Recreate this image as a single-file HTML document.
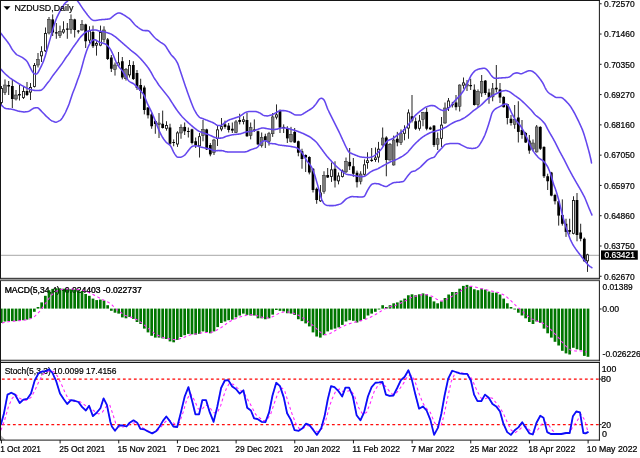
<!DOCTYPE html>
<html><head><meta charset="utf-8"><title>NZDUSD Daily</title>
<style>html,body{margin:0;padding:0;background:#fff;overflow:hidden}svg{display:block}text{font-family:"Liberation Sans",sans-serif;fill:#000;stroke:#000;stroke-width:0.22px}</style></head><body>
<svg width="640" height="458" viewBox="0 0 640 458">
<defs><filter id="bl" x="-2%" y="-2%" width="104%" height="104%"><feGaussianBlur stdDeviation="0.3"/></filter><clipPath id="cm"><rect x="1" y="1" width="598" height="277"/></clipPath><clipPath id="cd"><rect x="1" y="281.5" width="598" height="78"/></clipPath><clipPath id="cs"><rect x="1" y="362.9" width="598" height="77"/></clipPath></defs>
<rect width="640" height="458" fill="#fff"/>
<g filter="url(#bl)">
<line x1="1" y1="255.4" x2="599" y2="255.4" stroke="#b8b8b8" stroke-width="1.1"/>
<g clip-path="url(#cm)">
<line x1="1.50" y1="86.00" x2="1.50" y2="106.00" stroke="#1a1a1a" stroke-width="0.95"/>
<rect x="0.55" y="88.42" width="1.90" height="14.15" fill="#fff" stroke="#111" stroke-width="0.85"/>
<line x1="5.00" y1="79.40" x2="5.00" y2="95.00" stroke="#1a1a1a" stroke-width="0.95"/>
<rect x="3.62" y="85.00" width="2.75" height="7.50" fill="#7a7a7a" stroke="#222" stroke-width="0.5"/>
<line x1="8.66" y1="81.00" x2="8.66" y2="95.00" stroke="#1a1a1a" stroke-width="0.95"/>
<rect x="7.29" y="85.00" width="2.75" height="1.50" fill="#000"/>
<line x1="12.33" y1="80.00" x2="12.33" y2="108.00" stroke="#1a1a1a" stroke-width="0.95"/>
<rect x="10.96" y="86.00" width="2.75" height="13.00" fill="#000"/>
<line x1="16.00" y1="90.00" x2="16.00" y2="100.50" stroke="#1a1a1a" stroke-width="0.95"/>
<rect x="14.62" y="95.00" width="2.75" height="4.00" fill="#7a7a7a" stroke="#222" stroke-width="0.5"/>
<line x1="19.50" y1="85.00" x2="19.50" y2="100.50" stroke="#1a1a1a" stroke-width="0.95"/>
<rect x="18.55" y="94.42" width="1.90" height="0.65" fill="#fff" stroke="#111" stroke-width="0.85"/>
<line x1="23.50" y1="87.00" x2="23.50" y2="99.00" stroke="#1a1a1a" stroke-width="0.95"/>
<rect x="22.55" y="91.42" width="1.90" height="6.15" fill="#fff" stroke="#111" stroke-width="0.85"/>
<line x1="27.00" y1="82.00" x2="27.00" y2="96.00" stroke="#1a1a1a" stroke-width="0.95"/>
<rect x="25.62" y="91.00" width="2.75" height="4.00" fill="#000"/>
<line x1="30.50" y1="83.00" x2="30.50" y2="100.00" stroke="#1a1a1a" stroke-width="0.95"/>
<rect x="29.55" y="87.42" width="1.90" height="4.65" fill="#fff" stroke="#111" stroke-width="0.85"/>
<line x1="34.50" y1="63.00" x2="34.50" y2="87.50" stroke="#1a1a1a" stroke-width="0.95"/>
<rect x="33.55" y="65.42" width="1.90" height="21.15" fill="#fff" stroke="#111" stroke-width="0.85"/>
<line x1="38.00" y1="53.00" x2="38.00" y2="67.50" stroke="#1a1a1a" stroke-width="0.95"/>
<rect x="36.62" y="59.40" width="2.75" height="5.60" fill="#7a7a7a" stroke="#222" stroke-width="0.5"/>
<line x1="41.50" y1="46.25" x2="41.50" y2="62.00" stroke="#1a1a1a" stroke-width="0.95"/>
<rect x="40.55" y="51.67" width="1.90" height="4.15" fill="#fff" stroke="#111" stroke-width="0.85"/>
<line x1="45.50" y1="27.50" x2="45.50" y2="52.00" stroke="#1a1a1a" stroke-width="0.95"/>
<rect x="44.55" y="33.42" width="1.90" height="17.40" fill="#fff" stroke="#111" stroke-width="0.85"/>
<line x1="49.00" y1="17.00" x2="49.00" y2="34.40" stroke="#1a1a1a" stroke-width="0.95"/>
<rect x="47.62" y="19.40" width="2.75" height="13.60" fill="#7a7a7a" stroke="#222" stroke-width="0.5"/>
<line x1="52.66" y1="14.40" x2="52.66" y2="36.00" stroke="#1a1a1a" stroke-width="0.95"/>
<rect x="51.29" y="19.40" width="2.75" height="13.10" fill="#000"/>
<line x1="56.33" y1="23.00" x2="56.33" y2="38.75" stroke="#1a1a1a" stroke-width="0.95"/>
<rect x="54.96" y="32.25" width="2.75" height="1.25" fill="#000"/>
<line x1="60.00" y1="25.60" x2="60.00" y2="38.00" stroke="#1a1a1a" stroke-width="0.95"/>
<rect x="58.62" y="31.25" width="2.75" height="4.35" fill="#7a7a7a" stroke="#222" stroke-width="0.5"/>
<line x1="63.50" y1="21.25" x2="63.50" y2="33.75" stroke="#1a1a1a" stroke-width="0.95"/>
<rect x="62.55" y="29.82" width="1.90" height="2.25" fill="#fff" stroke="#111" stroke-width="0.85"/>
<line x1="67.33" y1="23.00" x2="67.33" y2="38.75" stroke="#1a1a1a" stroke-width="0.95"/>
<rect x="65.96" y="28.50" width="2.75" height="1.25" fill="#000"/>
<line x1="71.00" y1="14.40" x2="71.00" y2="33.75" stroke="#1a1a1a" stroke-width="0.95"/>
<rect x="69.62" y="19.40" width="2.75" height="10.00" fill="#7a7a7a" stroke="#222" stroke-width="0.5"/>
<line x1="74.66" y1="18.75" x2="74.66" y2="37.50" stroke="#1a1a1a" stroke-width="0.95"/>
<rect x="73.29" y="19.40" width="2.75" height="10.60" fill="#000"/>
<line x1="78.33" y1="30.00" x2="78.33" y2="33.50" stroke="#1a1a1a" stroke-width="0.95"/>
<rect x="76.96" y="30.60" width="2.75" height="1.00" fill="#000"/>
<line x1="82.00" y1="20.00" x2="82.00" y2="30.60" stroke="#1a1a1a" stroke-width="0.95"/>
<rect x="80.62" y="24.40" width="2.75" height="5.60" fill="#7a7a7a" stroke="#222" stroke-width="0.5"/>
<line x1="85.66" y1="23.75" x2="85.66" y2="48.00" stroke="#1a1a1a" stroke-width="0.95"/>
<rect x="84.29" y="24.40" width="2.75" height="16.85" fill="#000"/>
<line x1="89.50" y1="26.25" x2="89.50" y2="43.00" stroke="#1a1a1a" stroke-width="0.95"/>
<rect x="88.55" y="31.03" width="1.90" height="9.15" fill="#fff" stroke="#111" stroke-width="0.85"/>
<line x1="93.00" y1="25.60" x2="93.00" y2="48.00" stroke="#1a1a1a" stroke-width="0.95"/>
<rect x="91.62" y="32.00" width="2.75" height="14.25" fill="#000"/>
<line x1="96.50" y1="41.25" x2="96.50" y2="55.60" stroke="#1a1a1a" stroke-width="0.95"/>
<rect x="95.55" y="43.42" width="1.90" height="1.75" fill="#fff" stroke="#111" stroke-width="0.85"/>
<line x1="100.50" y1="25.60" x2="100.50" y2="46.25" stroke="#1a1a1a" stroke-width="0.95"/>
<rect x="99.55" y="32.42" width="1.90" height="12.75" fill="#fff" stroke="#111" stroke-width="0.85"/>
<line x1="104.00" y1="26.25" x2="104.00" y2="42.50" stroke="#1a1a1a" stroke-width="0.95"/>
<rect x="102.62" y="30.00" width="2.75" height="9.40" fill="#7a7a7a" stroke="#222" stroke-width="0.5"/>
<line x1="107.66" y1="38.00" x2="107.66" y2="60.00" stroke="#1a1a1a" stroke-width="0.95"/>
<rect x="106.29" y="39.40" width="2.75" height="19.60" fill="#000"/>
<line x1="111.33" y1="55.00" x2="111.33" y2="72.00" stroke="#1a1a1a" stroke-width="0.95"/>
<rect x="109.96" y="57.50" width="2.75" height="11.25" fill="#000"/>
<line x1="115.00" y1="62.50" x2="115.00" y2="75.60" stroke="#1a1a1a" stroke-width="0.95"/>
<rect x="113.62" y="65.00" width="2.75" height="4.40" fill="#7a7a7a" stroke="#222" stroke-width="0.5"/>
<line x1="118.50" y1="52.00" x2="118.50" y2="66.25" stroke="#1a1a1a" stroke-width="0.95"/>
<rect x="117.55" y="62.92" width="1.90" height="2.25" fill="#fff" stroke="#111" stroke-width="0.85"/>
<line x1="122.33" y1="57.00" x2="122.33" y2="79.40" stroke="#1a1a1a" stroke-width="0.95"/>
<rect x="120.96" y="61.25" width="2.75" height="16.25" fill="#000"/>
<line x1="126.00" y1="68.00" x2="126.00" y2="80.60" stroke="#1a1a1a" stroke-width="0.95"/>
<rect x="124.62" y="69.40" width="2.75" height="9.35" fill="#7a7a7a" stroke="#222" stroke-width="0.5"/>
<line x1="129.50" y1="60.00" x2="129.50" y2="77.50" stroke="#1a1a1a" stroke-width="0.95"/>
<rect x="128.55" y="65.42" width="1.90" height="9.45" fill="#fff" stroke="#111" stroke-width="0.85"/>
<line x1="133.33" y1="61.25" x2="133.33" y2="80.00" stroke="#1a1a1a" stroke-width="0.95"/>
<rect x="131.96" y="65.00" width="2.75" height="14.00" fill="#000"/>
<line x1="137.00" y1="70.00" x2="137.00" y2="90.00" stroke="#1a1a1a" stroke-width="0.95"/>
<rect x="135.62" y="73.00" width="2.75" height="15.00" fill="#000"/>
<line x1="140.66" y1="78.75" x2="140.66" y2="98.75" stroke="#1a1a1a" stroke-width="0.95"/>
<rect x="139.29" y="85.00" width="2.75" height="6.00" fill="#000"/>
<line x1="144.33" y1="85.60" x2="144.33" y2="114.40" stroke="#1a1a1a" stroke-width="0.95"/>
<rect x="142.96" y="87.50" width="2.75" height="22.50" fill="#000"/>
<line x1="148.00" y1="107.00" x2="148.00" y2="118.50" stroke="#1a1a1a" stroke-width="0.95"/>
<rect x="146.62" y="107.50" width="2.75" height="7.80" fill="#000"/>
<line x1="151.66" y1="112.50" x2="151.66" y2="128.75" stroke="#1a1a1a" stroke-width="0.95"/>
<rect x="150.29" y="114.40" width="2.75" height="11.85" fill="#000"/>
<line x1="155.33" y1="120.00" x2="155.33" y2="133.75" stroke="#1a1a1a" stroke-width="0.95"/>
<rect x="153.96" y="121.00" width="2.75" height="3.00" fill="#000"/>
<line x1="159.00" y1="113.00" x2="159.00" y2="138.00" stroke="#1a1a1a" stroke-width="0.95"/>
<rect x="157.62" y="123.00" width="2.75" height="1.50" fill="#7a7a7a" stroke="#222" stroke-width="0.5"/>
<line x1="162.66" y1="110.60" x2="162.66" y2="128.50" stroke="#1a1a1a" stroke-width="0.95"/>
<rect x="161.29" y="123.75" width="2.75" height="4.25" fill="#000"/>
<line x1="166.50" y1="121.25" x2="166.50" y2="130.60" stroke="#1a1a1a" stroke-width="0.95"/>
<rect x="165.55" y="125.42" width="1.90" height="2.90" fill="#fff" stroke="#111" stroke-width="0.85"/>
<line x1="170.00" y1="123.75" x2="170.00" y2="145.00" stroke="#1a1a1a" stroke-width="0.95"/>
<rect x="168.62" y="127.50" width="2.75" height="16.25" fill="#000"/>
<line x1="173.66" y1="139.40" x2="173.66" y2="146.25" stroke="#1a1a1a" stroke-width="0.95"/>
<rect x="172.29" y="142.00" width="2.75" height="1.00" fill="#000"/>
<line x1="177.50" y1="131.25" x2="177.50" y2="146.90" stroke="#1a1a1a" stroke-width="0.95"/>
<rect x="176.55" y="132.93" width="1.90" height="11.05" fill="#fff" stroke="#111" stroke-width="0.85"/>
<line x1="181.00" y1="124.40" x2="181.00" y2="138.75" stroke="#1a1a1a" stroke-width="0.95"/>
<rect x="179.62" y="127.50" width="2.75" height="5.50" fill="#7a7a7a" stroke="#222" stroke-width="0.5"/>
<line x1="184.66" y1="122.50" x2="184.66" y2="135.00" stroke="#1a1a1a" stroke-width="0.95"/>
<rect x="183.29" y="126.90" width="2.75" height="4.35" fill="#000"/>
<line x1="188.33" y1="127.50" x2="188.33" y2="137.50" stroke="#1a1a1a" stroke-width="0.95"/>
<rect x="186.96" y="131.00" width="2.75" height="1.00" fill="#000"/>
<line x1="192.00" y1="128.75" x2="192.00" y2="144.40" stroke="#1a1a1a" stroke-width="0.95"/>
<rect x="190.62" y="129.40" width="2.75" height="13.60" fill="#000"/>
<line x1="195.66" y1="137.50" x2="195.66" y2="148.00" stroke="#1a1a1a" stroke-width="0.95"/>
<rect x="194.29" y="141.25" width="2.75" height="3.75" fill="#000"/>
<line x1="199.50" y1="133.00" x2="199.50" y2="157.50" stroke="#1a1a1a" stroke-width="0.95"/>
<rect x="198.55" y="136.68" width="1.90" height="9.15" fill="#fff" stroke="#111" stroke-width="0.85"/>
<line x1="203.00" y1="120.00" x2="203.00" y2="141.25" stroke="#1a1a1a" stroke-width="0.95"/>
<rect x="201.62" y="129.40" width="2.75" height="6.20" fill="#7a7a7a" stroke="#222" stroke-width="0.5"/>
<line x1="206.66" y1="128.75" x2="206.66" y2="150.00" stroke="#1a1a1a" stroke-width="0.95"/>
<rect x="205.29" y="129.40" width="2.75" height="20.00" fill="#000"/>
<line x1="210.33" y1="143.00" x2="210.33" y2="156.25" stroke="#1a1a1a" stroke-width="0.95"/>
<rect x="208.96" y="145.00" width="2.75" height="9.40" fill="#000"/>
<line x1="214.00" y1="138.75" x2="214.00" y2="155.00" stroke="#1a1a1a" stroke-width="0.95"/>
<rect x="212.62" y="140.00" width="2.75" height="12.50" fill="#7a7a7a" stroke="#222" stroke-width="0.5"/>
<line x1="217.50" y1="126.00" x2="217.50" y2="146.00" stroke="#1a1a1a" stroke-width="0.95"/>
<rect x="216.55" y="129.83" width="1.90" height="8.75" fill="#fff" stroke="#111" stroke-width="0.85"/>
<line x1="221.50" y1="118.00" x2="221.50" y2="131.25" stroke="#1a1a1a" stroke-width="0.95"/>
<rect x="220.55" y="126.67" width="1.90" height="2.30" fill="#fff" stroke="#111" stroke-width="0.85"/>
<line x1="225.00" y1="120.60" x2="225.00" y2="128.75" stroke="#1a1a1a" stroke-width="0.95"/>
<rect x="223.62" y="124.40" width="2.75" height="2.50" fill="#000"/>
<line x1="228.66" y1="123.00" x2="228.66" y2="132.50" stroke="#1a1a1a" stroke-width="0.95"/>
<rect x="227.29" y="125.60" width="2.75" height="4.40" fill="#000"/>
<line x1="232.33" y1="122.50" x2="232.33" y2="133.00" stroke="#1a1a1a" stroke-width="0.95"/>
<rect x="230.96" y="128.75" width="2.75" height="1.85" fill="#000"/>
<line x1="236.00" y1="120.00" x2="236.00" y2="133.00" stroke="#1a1a1a" stroke-width="0.95"/>
<rect x="234.62" y="121.90" width="2.75" height="10.60" fill="#7a7a7a" stroke="#222" stroke-width="0.5"/>
<line x1="239.66" y1="113.75" x2="239.66" y2="124.40" stroke="#1a1a1a" stroke-width="0.95"/>
<rect x="238.29" y="120.00" width="2.75" height="1.90" fill="#000"/>
<line x1="243.50" y1="116.25" x2="243.50" y2="124.40" stroke="#1a1a1a" stroke-width="0.95"/>
<rect x="242.55" y="119.83" width="1.90" height="1.65" fill="#fff" stroke="#111" stroke-width="0.85"/>
<line x1="247.00" y1="113.00" x2="247.00" y2="136.90" stroke="#1a1a1a" stroke-width="0.95"/>
<rect x="245.62" y="120.00" width="2.75" height="16.25" fill="#000"/>
<line x1="250.66" y1="122.50" x2="250.66" y2="139.40" stroke="#1a1a1a" stroke-width="0.95"/>
<rect x="249.29" y="127.50" width="2.75" height="8.10" fill="#7a7a7a" stroke="#222" stroke-width="0.5"/>
<line x1="254.33" y1="119.40" x2="254.33" y2="131.90" stroke="#1a1a1a" stroke-width="0.95"/>
<rect x="252.96" y="129.50" width="2.75" height="1.50" fill="#000"/>
<line x1="258.00" y1="130.60" x2="258.00" y2="145.00" stroke="#1a1a1a" stroke-width="0.95"/>
<rect x="256.62" y="131.25" width="2.75" height="13.15" fill="#000"/>
<line x1="261.66" y1="132.50" x2="261.66" y2="147.50" stroke="#1a1a1a" stroke-width="0.95"/>
<rect x="260.29" y="137.50" width="2.75" height="8.10" fill="#7a7a7a" stroke="#222" stroke-width="0.5"/>
<line x1="265.33" y1="133.75" x2="265.33" y2="148.00" stroke="#1a1a1a" stroke-width="0.95"/>
<rect x="263.96" y="136.25" width="2.75" height="4.35" fill="#000"/>
<line x1="269.00" y1="131.90" x2="269.00" y2="145.60" stroke="#1a1a1a" stroke-width="0.95"/>
<rect x="267.62" y="133.75" width="2.75" height="7.50" fill="#7a7a7a" stroke="#222" stroke-width="0.5"/>
<line x1="272.66" y1="113.00" x2="272.66" y2="136.90" stroke="#1a1a1a" stroke-width="0.95"/>
<rect x="271.29" y="116.90" width="2.75" height="16.85" fill="#7a7a7a" stroke="#222" stroke-width="0.5"/>
<line x1="276.50" y1="104.40" x2="276.50" y2="119.40" stroke="#1a1a1a" stroke-width="0.95"/>
<rect x="275.55" y="114.83" width="1.90" height="2.25" fill="#fff" stroke="#111" stroke-width="0.85"/>
<line x1="280.00" y1="109.40" x2="280.00" y2="133.00" stroke="#1a1a1a" stroke-width="0.95"/>
<rect x="278.62" y="111.00" width="2.75" height="16.70" fill="#000"/>
<line x1="283.66" y1="124.40" x2="283.66" y2="133.00" stroke="#1a1a1a" stroke-width="0.95"/>
<rect x="282.29" y="126.90" width="2.75" height="1.10" fill="#000"/>
<line x1="287.33" y1="126.25" x2="287.33" y2="143.00" stroke="#1a1a1a" stroke-width="0.95"/>
<rect x="285.96" y="128.75" width="2.75" height="9.65" fill="#000"/>
<line x1="291.00" y1="126.90" x2="291.00" y2="142.50" stroke="#1a1a1a" stroke-width="0.95"/>
<rect x="289.62" y="134.40" width="2.75" height="6.85" fill="#7a7a7a" stroke="#222" stroke-width="0.5"/>
<line x1="294.66" y1="128.00" x2="294.66" y2="143.00" stroke="#1a1a1a" stroke-width="0.95"/>
<rect x="293.29" y="131.90" width="2.75" height="10.60" fill="#000"/>
<line x1="298.33" y1="140.60" x2="298.33" y2="156.25" stroke="#1a1a1a" stroke-width="0.95"/>
<rect x="296.96" y="141.25" width="2.75" height="11.45" fill="#000"/>
<line x1="302.00" y1="148.75" x2="302.00" y2="168.75" stroke="#1a1a1a" stroke-width="0.95"/>
<rect x="300.62" y="151.25" width="2.75" height="7.75" fill="#000"/>
<line x1="305.66" y1="154.40" x2="305.66" y2="172.00" stroke="#1a1a1a" stroke-width="0.95"/>
<rect x="304.29" y="155.00" width="2.75" height="2.50" fill="#000"/>
<line x1="309.33" y1="156.25" x2="309.33" y2="174.40" stroke="#1a1a1a" stroke-width="0.95"/>
<rect x="307.96" y="157.00" width="2.75" height="15.50" fill="#000"/>
<line x1="313.00" y1="168.00" x2="313.00" y2="192.50" stroke="#1a1a1a" stroke-width="0.95"/>
<rect x="311.62" y="168.75" width="2.75" height="21.25" fill="#000"/>
<line x1="316.66" y1="187.50" x2="316.66" y2="203.75" stroke="#1a1a1a" stroke-width="0.95"/>
<rect x="315.29" y="188.75" width="2.75" height="11.25" fill="#000"/>
<line x1="320.50" y1="185.00" x2="320.50" y2="201.90" stroke="#1a1a1a" stroke-width="0.95"/>
<rect x="319.55" y="192.93" width="1.90" height="7.90" fill="#fff" stroke="#111" stroke-width="0.85"/>
<line x1="324.00" y1="171.25" x2="324.00" y2="193.75" stroke="#1a1a1a" stroke-width="0.95"/>
<rect x="322.62" y="175.60" width="2.75" height="15.65" fill="#7a7a7a" stroke="#222" stroke-width="0.5"/>
<line x1="327.66" y1="168.00" x2="327.66" y2="178.00" stroke="#1a1a1a" stroke-width="0.95"/>
<rect x="326.29" y="175.00" width="2.75" height="2.50" fill="#000"/>
<line x1="331.50" y1="162.50" x2="331.50" y2="181.90" stroke="#1a1a1a" stroke-width="0.95"/>
<rect x="330.55" y="169.83" width="1.90" height="6.65" fill="#fff" stroke="#111" stroke-width="0.85"/>
<line x1="335.00" y1="161.25" x2="335.00" y2="187.50" stroke="#1a1a1a" stroke-width="0.95"/>
<rect x="333.62" y="168.75" width="2.75" height="11.85" fill="#000"/>
<line x1="338.50" y1="172.50" x2="338.50" y2="184.40" stroke="#1a1a1a" stroke-width="0.95"/>
<rect x="337.55" y="176.03" width="1.90" height="4.80" fill="#fff" stroke="#111" stroke-width="0.85"/>
<line x1="342.50" y1="169.40" x2="342.50" y2="177.50" stroke="#1a1a1a" stroke-width="0.95"/>
<rect x="341.55" y="171.03" width="1.90" height="5.45" fill="#fff" stroke="#111" stroke-width="0.85"/>
<line x1="346.00" y1="157.50" x2="346.00" y2="173.00" stroke="#1a1a1a" stroke-width="0.95"/>
<rect x="344.62" y="161.25" width="2.75" height="10.65" fill="#7a7a7a" stroke="#222" stroke-width="0.5"/>
<line x1="349.66" y1="148.00" x2="349.66" y2="170.00" stroke="#1a1a1a" stroke-width="0.95"/>
<rect x="348.29" y="161.90" width="2.75" height="4.35" fill="#000"/>
<line x1="353.33" y1="158.00" x2="353.33" y2="176.90" stroke="#1a1a1a" stroke-width="0.95"/>
<rect x="351.96" y="166.25" width="2.75" height="7.50" fill="#000"/>
<line x1="357.00" y1="170.60" x2="357.00" y2="187.50" stroke="#1a1a1a" stroke-width="0.95"/>
<rect x="355.62" y="172.70" width="2.75" height="9.50" fill="#000"/>
<line x1="360.66" y1="171.25" x2="360.66" y2="184.40" stroke="#1a1a1a" stroke-width="0.95"/>
<rect x="359.29" y="174.00" width="2.75" height="7.25" fill="#7a7a7a" stroke="#222" stroke-width="0.5"/>
<line x1="364.50" y1="159.40" x2="364.50" y2="175.60" stroke="#1a1a1a" stroke-width="0.95"/>
<rect x="363.55" y="164.83" width="1.90" height="9.45" fill="#fff" stroke="#111" stroke-width="0.85"/>
<line x1="367.50" y1="152.30" x2="367.50" y2="168.75" stroke="#1a1a1a" stroke-width="0.95"/>
<rect x="366.55" y="160.73" width="1.90" height="1.85" fill="#fff" stroke="#111" stroke-width="0.85"/>
<line x1="371.66" y1="148.00" x2="371.66" y2="161.90" stroke="#1a1a1a" stroke-width="0.95"/>
<rect x="370.29" y="159.75" width="2.75" height="1.25" fill="#000"/>
<line x1="375.50" y1="147.50" x2="375.50" y2="161.90" stroke="#1a1a1a" stroke-width="0.95"/>
<rect x="374.55" y="157.93" width="1.90" height="1.65" fill="#fff" stroke="#111" stroke-width="0.85"/>
<line x1="378.50" y1="141.90" x2="378.50" y2="162.50" stroke="#1a1a1a" stroke-width="0.95"/>
<rect x="377.55" y="149.18" width="1.90" height="7.90" fill="#fff" stroke="#111" stroke-width="0.85"/>
<line x1="382.66" y1="127.50" x2="382.66" y2="145.60" stroke="#1a1a1a" stroke-width="0.95"/>
<rect x="381.29" y="138.00" width="2.75" height="7.00" fill="#7a7a7a" stroke="#222" stroke-width="0.5"/>
<line x1="386.33" y1="136.25" x2="386.33" y2="176.25" stroke="#1a1a1a" stroke-width="0.95"/>
<rect x="384.96" y="137.50" width="2.75" height="22.50" fill="#000"/>
<line x1="390.00" y1="143.00" x2="390.00" y2="160.60" stroke="#1a1a1a" stroke-width="0.95"/>
<rect x="388.62" y="144.40" width="2.75" height="15.60" fill="#7a7a7a" stroke="#222" stroke-width="0.5"/>
<line x1="393.66" y1="135.60" x2="393.66" y2="165.60" stroke="#1a1a1a" stroke-width="0.95"/>
<rect x="392.29" y="140.00" width="2.75" height="25.00" fill="#7a7a7a" stroke="#222" stroke-width="0.5"/>
<line x1="397.33" y1="131.90" x2="397.33" y2="146.25" stroke="#1a1a1a" stroke-width="0.95"/>
<rect x="395.96" y="138.75" width="2.75" height="3.75" fill="#000"/>
<line x1="401.00" y1="129.40" x2="401.00" y2="145.00" stroke="#1a1a1a" stroke-width="0.95"/>
<rect x="399.62" y="133.75" width="2.75" height="8.75" fill="#7a7a7a" stroke="#222" stroke-width="0.5"/>
<line x1="404.50" y1="125.30" x2="404.50" y2="140.30" stroke="#1a1a1a" stroke-width="0.95"/>
<rect x="403.55" y="129.43" width="1.90" height="3.90" fill="#fff" stroke="#111" stroke-width="0.85"/>
<line x1="408.50" y1="109.40" x2="408.50" y2="138.75" stroke="#1a1a1a" stroke-width="0.95"/>
<rect x="407.55" y="112.92" width="1.90" height="15.15" fill="#fff" stroke="#111" stroke-width="0.85"/>
<line x1="412.00" y1="95.00" x2="412.00" y2="122.50" stroke="#1a1a1a" stroke-width="0.95"/>
<rect x="410.62" y="116.25" width="2.75" height="4.35" fill="#000"/>
<line x1="415.66" y1="117.50" x2="415.66" y2="130.00" stroke="#1a1a1a" stroke-width="0.95"/>
<rect x="414.29" y="121.25" width="2.75" height="7.50" fill="#000"/>
<line x1="419.50" y1="115.00" x2="419.50" y2="130.60" stroke="#1a1a1a" stroke-width="0.95"/>
<rect x="418.55" y="121.02" width="1.90" height="7.30" fill="#fff" stroke="#111" stroke-width="0.85"/>
<line x1="423.00" y1="111.90" x2="423.00" y2="126.25" stroke="#1a1a1a" stroke-width="0.95"/>
<rect x="421.62" y="112.50" width="2.75" height="6.90" fill="#7a7a7a" stroke="#222" stroke-width="0.5"/>
<line x1="426.66" y1="108.00" x2="426.66" y2="130.30" stroke="#1a1a1a" stroke-width="0.95"/>
<rect x="425.29" y="111.90" width="2.75" height="16.85" fill="#000"/>
<line x1="430.33" y1="126.50" x2="430.33" y2="130.00" stroke="#1a1a1a" stroke-width="0.95"/>
<rect x="428.96" y="127.50" width="2.75" height="1.90" fill="#000"/>
<line x1="434.00" y1="125.00" x2="434.00" y2="146.90" stroke="#1a1a1a" stroke-width="0.95"/>
<rect x="432.62" y="125.60" width="2.75" height="19.40" fill="#000"/>
<line x1="437.66" y1="132.50" x2="437.66" y2="150.00" stroke="#1a1a1a" stroke-width="0.95"/>
<rect x="436.29" y="138.75" width="2.75" height="5.65" fill="#7a7a7a" stroke="#222" stroke-width="0.5"/>
<line x1="441.50" y1="117.00" x2="441.50" y2="146.90" stroke="#1a1a1a" stroke-width="0.95"/>
<rect x="440.55" y="125.12" width="1.90" height="13.20" fill="#fff" stroke="#111" stroke-width="0.85"/>
<line x1="445.00" y1="102.50" x2="445.00" y2="123.75" stroke="#1a1a1a" stroke-width="0.95"/>
<rect x="443.62" y="108.00" width="2.75" height="15.00" fill="#7a7a7a" stroke="#222" stroke-width="0.5"/>
<line x1="448.50" y1="98.00" x2="448.50" y2="111.00" stroke="#1a1a1a" stroke-width="0.95"/>
<rect x="447.55" y="101.02" width="1.90" height="6.55" fill="#fff" stroke="#111" stroke-width="0.85"/>
<line x1="452.33" y1="101.90" x2="452.33" y2="107.50" stroke="#1a1a1a" stroke-width="0.95"/>
<rect x="450.96" y="104.00" width="2.75" height="1.30" fill="#000"/>
<line x1="456.00" y1="95.00" x2="456.00" y2="110.30" stroke="#1a1a1a" stroke-width="0.95"/>
<rect x="454.62" y="102.50" width="2.75" height="4.70" fill="#000"/>
<line x1="459.66" y1="84.40" x2="459.66" y2="111.50" stroke="#1a1a1a" stroke-width="0.95"/>
<rect x="458.29" y="85.00" width="2.75" height="21.25" fill="#7a7a7a" stroke="#222" stroke-width="0.5"/>
<line x1="463.50" y1="77.50" x2="463.50" y2="88.75" stroke="#1a1a1a" stroke-width="0.95"/>
<rect x="462.55" y="82.92" width="1.90" height="2.25" fill="#fff" stroke="#111" stroke-width="0.85"/>
<line x1="467.00" y1="80.00" x2="467.00" y2="91.00" stroke="#1a1a1a" stroke-width="0.95"/>
<rect x="465.62" y="84.00" width="2.75" height="2.00" fill="#7a7a7a" stroke="#222" stroke-width="0.5"/>
<line x1="470.66" y1="78.75" x2="470.66" y2="90.00" stroke="#1a1a1a" stroke-width="0.95"/>
<rect x="469.29" y="85.00" width="2.75" height="1.25" fill="#000"/>
<line x1="474.33" y1="84.40" x2="474.33" y2="105.60" stroke="#1a1a1a" stroke-width="0.95"/>
<rect x="472.96" y="89.70" width="2.75" height="15.30" fill="#000"/>
<line x1="478.00" y1="89.40" x2="478.00" y2="107.20" stroke="#1a1a1a" stroke-width="0.95"/>
<rect x="476.62" y="91.60" width="2.75" height="13.10" fill="#7a7a7a" stroke="#222" stroke-width="0.5"/>
<line x1="481.66" y1="75.00" x2="481.66" y2="96.90" stroke="#1a1a1a" stroke-width="0.95"/>
<rect x="480.29" y="81.25" width="2.75" height="11.75" fill="#7a7a7a" stroke="#222" stroke-width="0.5"/>
<line x1="485.33" y1="80.00" x2="485.33" y2="95.00" stroke="#1a1a1a" stroke-width="0.95"/>
<rect x="483.96" y="80.60" width="2.75" height="12.40" fill="#000"/>
<line x1="489.00" y1="88.75" x2="489.00" y2="103.75" stroke="#1a1a1a" stroke-width="0.95"/>
<rect x="487.62" y="92.50" width="2.75" height="5.00" fill="#000"/>
<line x1="492.66" y1="83.00" x2="492.66" y2="101.25" stroke="#1a1a1a" stroke-width="0.95"/>
<rect x="491.29" y="88.75" width="2.75" height="8.15" fill="#7a7a7a" stroke="#222" stroke-width="0.5"/>
<line x1="496.33" y1="65.00" x2="496.33" y2="92.50" stroke="#1a1a1a" stroke-width="0.95"/>
<rect x="494.96" y="87.75" width="2.75" height="1.65" fill="#000"/>
<line x1="500.00" y1="83.00" x2="500.00" y2="103.00" stroke="#1a1a1a" stroke-width="0.95"/>
<rect x="498.62" y="89.40" width="2.75" height="8.10" fill="#000"/>
<line x1="503.66" y1="96.25" x2="503.66" y2="107.50" stroke="#1a1a1a" stroke-width="0.95"/>
<rect x="502.29" y="96.90" width="2.75" height="10.30" fill="#000"/>
<line x1="507.33" y1="103.75" x2="507.33" y2="124.40" stroke="#1a1a1a" stroke-width="0.95"/>
<rect x="505.96" y="104.00" width="2.75" height="14.00" fill="#000"/>
<line x1="511.00" y1="115.00" x2="511.00" y2="125.60" stroke="#1a1a1a" stroke-width="0.95"/>
<rect x="509.62" y="118.75" width="2.75" height="4.25" fill="#000"/>
<line x1="514.66" y1="105.00" x2="514.66" y2="128.75" stroke="#1a1a1a" stroke-width="0.95"/>
<rect x="513.29" y="119.40" width="2.75" height="5.00" fill="#7a7a7a" stroke="#222" stroke-width="0.5"/>
<line x1="518.33" y1="101.25" x2="518.33" y2="142.50" stroke="#1a1a1a" stroke-width="0.95"/>
<rect x="516.96" y="117.50" width="2.75" height="14.40" fill="#000"/>
<line x1="522.00" y1="120.00" x2="522.00" y2="138.75" stroke="#1a1a1a" stroke-width="0.95"/>
<rect x="520.62" y="130.00" width="2.75" height="5.00" fill="#000"/>
<line x1="525.66" y1="131.90" x2="525.66" y2="143.00" stroke="#1a1a1a" stroke-width="0.95"/>
<rect x="524.29" y="133.00" width="2.75" height="9.50" fill="#000"/>
<line x1="529.33" y1="135.00" x2="529.33" y2="153.75" stroke="#1a1a1a" stroke-width="0.95"/>
<rect x="527.96" y="140.60" width="2.75" height="10.00" fill="#000"/>
<line x1="533.00" y1="139.40" x2="533.00" y2="151.25" stroke="#1a1a1a" stroke-width="0.95"/>
<rect x="531.62" y="143.00" width="2.75" height="6.00" fill="#7a7a7a" stroke="#222" stroke-width="0.5"/>
<line x1="536.66" y1="125.00" x2="536.66" y2="152.50" stroke="#1a1a1a" stroke-width="0.95"/>
<rect x="535.29" y="126.90" width="2.75" height="25.10" fill="#7a7a7a" stroke="#222" stroke-width="0.5"/>
<line x1="540.33" y1="126.25" x2="540.33" y2="150.00" stroke="#1a1a1a" stroke-width="0.95"/>
<rect x="538.96" y="126.90" width="2.75" height="21.85" fill="#000"/>
<line x1="544.00" y1="146.25" x2="544.00" y2="178.00" stroke="#1a1a1a" stroke-width="0.95"/>
<rect x="542.62" y="146.90" width="2.75" height="29.35" fill="#000"/>
<line x1="547.66" y1="173.75" x2="547.66" y2="190.00" stroke="#1a1a1a" stroke-width="0.95"/>
<rect x="546.29" y="176.25" width="2.75" height="5.00" fill="#000"/>
<line x1="551.33" y1="171.90" x2="551.33" y2="196.25" stroke="#1a1a1a" stroke-width="0.95"/>
<rect x="549.96" y="172.50" width="2.75" height="23.10" fill="#000"/>
<line x1="555.00" y1="193.75" x2="555.00" y2="204.40" stroke="#1a1a1a" stroke-width="0.95"/>
<rect x="553.62" y="195.00" width="2.75" height="6.25" fill="#000"/>
<line x1="558.66" y1="200.60" x2="558.66" y2="225.60" stroke="#1a1a1a" stroke-width="0.95"/>
<rect x="557.29" y="201.25" width="2.75" height="14.35" fill="#000"/>
<line x1="562.33" y1="199.40" x2="562.33" y2="225.60" stroke="#1a1a1a" stroke-width="0.95"/>
<rect x="560.96" y="215.00" width="2.75" height="8.75" fill="#000"/>
<line x1="566.00" y1="218.75" x2="566.00" y2="236.90" stroke="#1a1a1a" stroke-width="0.95"/>
<rect x="564.62" y="223.75" width="2.75" height="8.15" fill="#000"/>
<line x1="569.66" y1="218.75" x2="569.66" y2="234.50" stroke="#1a1a1a" stroke-width="0.95"/>
<rect x="568.29" y="230.00" width="2.75" height="1.90" fill="#000"/>
<line x1="573.50" y1="196.25" x2="573.50" y2="234.40" stroke="#1a1a1a" stroke-width="0.95"/>
<rect x="572.55" y="200.43" width="1.90" height="32.90" fill="#fff" stroke="#111" stroke-width="0.85"/>
<line x1="577.00" y1="193.00" x2="577.00" y2="241.25" stroke="#1a1a1a" stroke-width="0.95"/>
<rect x="575.62" y="200.00" width="2.75" height="35.00" fill="#000"/>
<line x1="580.66" y1="223.75" x2="580.66" y2="241.25" stroke="#1a1a1a" stroke-width="0.95"/>
<rect x="579.29" y="232.50" width="2.75" height="6.25" fill="#000"/>
<line x1="584.33" y1="237.50" x2="584.33" y2="261.90" stroke="#1a1a1a" stroke-width="0.95"/>
<rect x="582.96" y="238.75" width="2.75" height="22.50" fill="#000"/>
<line x1="587.50" y1="253.75" x2="587.50" y2="271.90" stroke="#1a1a1a" stroke-width="0.95"/>
<rect x="586.55" y="254.83" width="1.90" height="6.00" fill="#fff" stroke="#111" stroke-width="0.85"/>
<polyline points="0.65,33.00 1.15,33.66 1.65,34.32 2.15,34.98 2.65,35.63 3.15,36.28 3.65,36.92 4.15,37.56 4.65,38.19 5.15,38.81 5.65,39.44 6.15,40.08 6.65,40.73 7.15,41.40 7.65,42.07 8.15,42.75 8.65,43.45 9.15,44.17 9.65,44.96 10.15,45.81 10.65,46.72 11.15,47.64 11.65,48.51 12.15,49.29 12.65,49.99 13.15,50.64 13.65,51.26 14.15,51.87 14.65,52.48 15.15,53.07 15.65,53.64 16.15,54.13 16.65,54.54 17.15,54.87 17.65,55.14 18.15,55.39 18.65,55.64 19.15,55.88 19.65,56.12 20.15,56.36 20.65,56.61 21.15,56.85 21.65,57.11 22.15,57.38 22.65,57.69 23.15,58.03 23.65,58.40 24.15,58.79 24.65,59.17 25.15,59.56 25.65,59.97 26.15,60.41 26.65,60.94 27.15,61.61 27.65,62.42 28.15,63.33 28.65,64.31 29.15,65.30 29.65,66.30 30.15,67.30 30.65,68.30 31.15,69.30 31.65,70.28 32.15,71.21 32.65,72.04 33.15,72.71 33.65,73.21 34.15,73.57 34.65,73.84 35.15,74.03 35.65,74.12 36.15,74.09 36.65,73.91 37.15,73.57 37.65,73.03 38.15,72.29 38.65,71.40 39.15,70.44 39.65,69.43 40.15,68.42 40.65,67.39 41.15,66.35 41.65,65.30 42.15,64.23 42.65,63.11 43.15,61.92 43.65,60.64 44.15,59.27 44.65,57.81 45.15,56.25 45.65,54.58 46.15,52.84 46.65,51.07 47.15,49.29 47.65,47.54 48.15,45.81 48.65,44.09 49.15,42.38 49.65,40.65 50.15,38.91 50.65,37.14 51.15,35.36 51.65,33.57 52.15,31.80 52.65,30.04 53.15,28.31 53.65,26.61 54.15,24.95 54.65,23.37 55.15,21.89 55.65,20.54 56.15,19.27 56.65,18.07 57.15,16.92 57.65,15.83 58.15,14.79 58.65,13.79 59.15,12.81 59.65,11.85 60.15,10.91 60.65,9.99 61.15,9.11 61.65,8.26 62.15,7.43 62.65,6.61 63.15,5.82 63.65,5.05 64.15,4.33 64.65,3.67 65.15,3.10 65.65,2.63 66.15,2.22 66.65,1.84 67.15,1.44 67.65,0.97 68.15,0.41 68.65,-0.25 69.15,-0.94 69.65,-1.58 70.15,-2.05 70.65,-2.33 71.15,-2.45 71.65,-2.49 72.15,-2.50 72.65,-2.50 73.15,-2.50 73.65,-2.49 74.15,-2.47 74.65,-2.40 75.15,-2.20 75.65,-1.83 76.15,-1.25 76.65,-0.52 77.15,0.26 77.65,1.02 78.15,1.73 78.65,2.40 79.15,3.09 79.65,3.81 80.15,4.56 80.65,5.32 81.15,6.09 81.65,6.84 82.15,7.60 82.65,8.34 83.15,9.07 83.65,9.77 84.15,10.44 84.65,11.10 85.15,11.76 85.65,12.43 86.15,13.11 86.65,13.80 87.15,14.47 87.65,15.13 88.15,15.76 88.65,16.37 89.15,16.96 89.65,17.53 90.15,18.07 90.65,18.57 91.15,19.04 91.65,19.47 92.15,19.84 92.65,20.12 93.15,20.30 93.65,20.41 94.15,20.48 94.65,20.51 95.15,20.50 95.65,20.46 96.15,20.40 96.65,20.32 97.15,20.23 97.65,20.15 98.15,20.06 98.65,19.98 99.15,19.90 99.65,19.83 100.15,19.76 100.65,19.71 101.15,19.67 101.65,19.64 102.15,19.60 102.65,19.56 103.15,19.53 103.65,19.49 104.15,19.46 104.65,19.42 105.15,19.38 105.65,19.33 106.15,19.28 106.65,19.23 107.15,19.18 107.65,19.13 108.15,19.08 108.65,19.02 109.15,18.94 109.65,18.80 110.15,18.57 110.65,18.25 111.15,17.87 111.65,17.44 112.15,17.01 112.65,16.57 113.15,16.15 113.65,15.74 114.15,15.35 114.65,14.99 115.15,14.63 115.65,14.29 116.15,13.95 116.65,13.63 117.15,13.36 117.65,13.16 118.15,13.04 118.65,12.98 119.15,12.97 119.65,13.01 120.15,13.12 120.65,13.30 121.15,13.52 121.65,13.77 122.15,14.03 122.65,14.29 123.15,14.56 123.65,14.84 124.15,15.14 124.65,15.45 125.15,15.77 125.65,16.10 126.15,16.43 126.65,16.77 127.15,17.10 127.65,17.43 128.15,17.77 128.65,18.11 129.15,18.47 129.65,18.86 130.15,19.31 130.65,19.83 131.15,20.39 131.65,20.98 132.15,21.58 132.65,22.18 133.15,22.78 133.65,23.37 134.15,23.96 134.65,24.51 135.15,25.02 135.65,25.48 136.15,25.91 136.65,26.32 137.15,26.72 137.65,27.11 138.15,27.50 138.65,27.87 139.15,28.21 139.65,28.54 140.15,28.85 140.65,29.16 141.15,29.47 141.65,29.76 142.15,30.04 142.65,30.28 143.15,30.45 143.65,30.54 144.15,30.58 144.65,30.60 145.15,30.60 145.65,30.60 146.15,30.60 146.65,30.60 147.15,30.61 147.65,30.64 148.15,30.73 148.65,30.94 149.15,31.30 149.65,31.80 150.15,32.38 150.65,32.98 151.15,33.59 151.65,34.18 152.15,34.76 152.65,35.33 153.15,35.90 153.65,36.46 154.15,37.02 154.65,37.54 155.15,38.03 155.65,38.47 156.15,38.89 156.65,39.28 157.15,39.68 157.65,40.07 158.15,40.46 158.65,40.84 159.15,41.23 159.65,41.60 160.15,41.95 160.65,42.29 161.15,42.61 161.65,42.92 162.15,43.23 162.65,43.54 163.15,43.86 163.65,44.18 164.15,44.54 164.65,44.97 165.15,45.51 165.65,46.18 166.15,46.94 166.65,47.75 167.15,48.58 167.65,49.39 168.15,50.20 168.65,50.99 169.15,51.77 169.65,52.53 170.15,53.29 170.65,54.02 171.15,54.70 171.65,55.31 172.15,55.87 172.65,56.39 173.15,56.90 173.65,57.41 174.15,57.94 174.65,58.52 175.15,59.17 175.65,59.90 176.15,60.69 176.65,61.53 177.15,62.42 177.65,63.43 178.15,64.59 178.65,65.92 179.15,67.38 179.65,68.89 180.15,70.42 180.65,71.94 181.15,73.45 181.65,74.95 182.15,76.45 182.65,77.95 183.15,79.45 183.65,80.95 184.15,82.44 184.65,83.94 185.15,85.42 185.65,86.89 186.15,88.35 186.65,89.81 187.15,91.26 187.65,92.69 188.15,94.10 188.65,95.48 189.15,96.84 189.65,98.19 190.15,99.53 190.65,100.86 191.15,102.18 191.65,103.47 192.15,104.74 192.65,105.98 193.15,107.18 193.65,108.31 194.15,109.36 194.65,110.33 195.15,111.25 195.65,112.14 196.15,113.00 196.65,113.82 197.15,114.55 197.65,115.22 198.15,115.83 198.65,116.41 199.15,116.94 199.65,117.39 200.15,117.72 200.65,117.93 201.15,118.08 201.65,118.22 202.15,118.38 202.65,118.57 203.15,118.76 203.65,118.96 204.15,119.16 204.65,119.36 205.15,119.56 205.65,119.76 206.15,119.95 206.65,120.15 207.15,120.34 207.65,120.53 208.15,120.72 208.65,120.91 209.15,121.10 209.65,121.29 210.15,121.48 210.65,121.68 211.15,121.88 211.65,122.09 212.15,122.30 212.65,122.52 213.15,122.76 213.65,123.02 214.15,123.32 214.65,123.64 215.15,123.97 215.65,124.32 216.15,124.65 216.65,124.97 217.15,125.23 217.65,125.43 218.15,125.53 218.65,125.58 219.15,125.60 219.65,125.59 220.15,125.58 220.65,125.51 221.15,125.38 221.65,125.14 222.15,124.81 222.65,124.43 223.15,124.03 223.65,123.62 224.15,123.21 224.65,122.82 225.15,122.44 225.65,122.08 226.15,121.74 226.65,121.40 227.15,121.07 227.65,120.74 228.15,120.44 228.65,120.16 229.15,119.93 229.65,119.73 230.15,119.56 230.65,119.39 231.15,119.23 231.65,119.07 232.15,118.91 232.65,118.75 233.15,118.59 233.65,118.43 234.15,118.27 234.65,118.11 235.15,117.94 235.65,117.77 236.15,117.60 236.65,117.42 237.15,117.25 237.65,117.07 238.15,116.90 238.65,116.72 239.15,116.52 239.65,116.30 240.15,116.04 240.65,115.72 241.15,115.38 241.65,115.01 242.15,114.64 242.65,114.26 243.15,113.89 243.65,113.52 244.15,113.17 244.65,112.85 245.15,112.58 245.65,112.37 246.15,112.21 246.65,112.06 247.15,111.93 247.65,111.80 248.15,111.69 248.65,111.60 249.15,111.54 249.65,111.51 250.15,111.50 250.65,111.50 251.15,111.50 251.65,111.50 252.15,111.50 252.65,111.50 253.15,111.50 253.65,111.50 254.15,111.50 254.65,111.50 255.15,111.51 255.65,111.54 256.15,111.61 256.65,111.72 257.15,111.88 257.65,112.07 258.15,112.26 258.65,112.46 259.15,112.68 259.65,112.91 260.15,113.18 260.65,113.48 261.15,113.81 261.65,114.15 262.15,114.49 262.65,114.82 263.15,115.12 263.65,115.37 264.15,115.55 264.65,115.67 265.15,115.74 265.65,115.80 266.15,115.85 266.65,115.89 267.15,115.90 267.65,115.87 268.15,115.80 268.65,115.70 269.15,115.59 269.65,115.46 270.15,115.34 270.65,115.21 271.15,115.08 271.65,114.94 272.15,114.78 272.65,114.57 273.15,114.33 273.65,114.05 274.15,113.76 274.65,113.46 275.15,113.16 275.65,112.87 276.15,112.59 276.65,112.31 277.15,112.05 277.65,111.79 278.15,111.54 278.65,111.29 279.15,111.06 279.65,110.87 280.15,110.73 280.65,110.65 281.15,110.61 281.65,110.60 282.15,110.60 282.65,110.60 283.15,110.60 283.65,110.60 284.15,110.62 284.65,110.65 285.15,110.71 285.65,110.81 286.15,110.93 286.65,111.06 287.15,111.20 287.65,111.34 288.15,111.48 288.65,111.63 289.15,111.78 289.65,111.96 290.15,112.17 290.65,112.42 291.15,112.70 291.65,112.99 292.15,113.29 292.65,113.59 293.15,113.89 293.65,114.18 294.15,114.45 294.65,114.68 295.15,114.85 295.65,114.94 296.15,114.98 296.65,115.00 297.15,115.00 297.65,115.00 298.15,115.00 298.65,115.00 299.15,115.00 299.65,115.00 300.15,114.98 300.65,114.94 301.15,114.83 301.65,114.65 302.15,114.41 302.65,114.12 303.15,113.82 303.65,113.51 304.15,113.20 304.65,112.89 305.15,112.58 305.65,112.27 306.15,111.96 306.65,111.65 307.15,111.34 307.65,111.03 308.15,110.71 308.65,110.40 309.15,110.09 309.65,109.78 310.15,109.47 310.65,109.15 311.15,108.83 311.65,108.50 312.15,108.13 312.65,107.70 313.15,107.21 313.65,106.68 314.15,106.13 314.65,105.56 315.15,104.98 315.65,104.38 316.15,103.74 316.65,103.04 317.15,102.30 317.65,101.53 318.15,100.76 318.65,100.04 319.15,99.42 319.65,98.95 320.15,98.63 320.65,98.43 321.15,98.32 321.65,98.31 322.15,98.44 322.65,98.70 323.15,99.07 323.65,99.56 324.15,100.24 324.65,101.14 325.15,102.27 325.65,103.57 326.15,104.94 326.65,106.30 327.15,107.62 327.65,108.84 328.15,109.97 328.65,111.03 329.15,112.05 329.65,113.05 330.15,114.05 330.65,115.05 331.15,116.05 331.65,117.05 332.15,118.05 332.65,119.05 333.15,120.05 333.65,121.05 334.15,122.05 334.65,123.05 335.15,124.05 335.65,125.05 336.15,126.05 336.65,127.05 337.15,128.05 337.65,129.06 338.15,130.07 338.65,131.10 339.15,132.15 339.65,133.22 340.15,134.29 340.65,135.38 341.15,136.47 341.65,137.55 342.15,138.65 342.65,139.74 343.15,140.84 343.65,141.94 344.15,143.04 344.65,144.14 345.15,145.21 345.65,146.26 346.15,147.26 346.65,148.24 347.15,149.19 347.65,150.11 348.15,150.95 348.65,151.66 349.15,152.19 349.65,152.56 350.15,152.83 350.65,153.06 351.15,153.28 351.65,153.50 352.15,153.71 352.65,153.93 353.15,154.14 353.65,154.35 354.15,154.56 354.65,154.76 355.15,154.96 355.65,155.16 356.15,155.36 356.65,155.56 357.15,155.76 357.65,155.96 358.15,156.16 358.65,156.36 359.15,156.54 359.65,156.71 360.15,156.85 360.65,156.95 361.15,157.03 361.65,157.10 362.15,157.16 362.65,157.22 363.15,157.28 363.65,157.34 364.15,157.39 364.65,157.44 365.15,157.47 365.65,157.49 366.15,157.50 366.65,157.50 367.15,157.50 367.65,157.50 368.15,157.50 368.65,157.49 369.15,157.48 369.65,157.44 370.15,157.37 370.65,157.25 371.15,157.11 371.65,156.95 372.15,156.78 372.65,156.60 373.15,156.39 373.65,156.14 374.15,155.82 374.65,155.44 375.15,155.03 375.65,154.60 376.15,154.17 376.65,153.73 377.15,153.29 377.65,152.83 378.15,152.37 378.65,151.89 379.15,151.41 379.65,150.93 380.15,150.44 380.65,149.91 381.15,149.33 381.65,148.67 382.15,147.94 382.65,147.17 383.15,146.39 383.65,145.62 384.15,144.87 384.65,144.17 385.15,143.51 385.65,142.88 386.15,142.27 386.65,141.69 387.15,141.18 387.65,140.76 388.15,140.44 388.65,140.20 389.15,139.99 389.65,139.81 390.15,139.62 390.65,139.43 391.15,139.24 391.65,139.04 392.15,138.81 392.65,138.54 393.15,138.23 393.65,137.88 394.15,137.51 394.65,137.14 395.15,136.76 395.65,136.39 396.15,136.01 396.65,135.64 397.15,135.26 397.65,134.89 398.15,134.51 398.65,134.14 399.15,133.76 399.65,133.39 400.15,133.01 400.65,132.64 401.15,132.26 401.65,131.87 402.15,131.47 402.65,131.04 403.15,130.58 403.65,130.09 404.15,129.60 404.65,129.10 405.15,128.59 405.65,128.07 406.15,127.51 406.65,126.91 407.15,126.28 407.65,125.63 408.15,124.97 408.65,124.30 409.15,123.63 409.65,122.96 410.15,122.28 410.65,121.60 411.15,120.91 411.65,120.22 412.15,119.53 412.65,118.84 413.15,118.15 413.65,117.47 414.15,116.80 414.65,116.17 415.15,115.60 415.65,115.08 416.15,114.61 416.65,114.17 417.15,113.73 417.65,113.29 418.15,112.86 418.65,112.43 419.15,112.00 419.65,111.58 420.15,111.17 420.65,110.77 421.15,110.39 421.65,110.01 422.15,109.64 422.65,109.26 423.15,108.89 423.65,108.52 424.15,108.16 424.65,107.83 425.15,107.54 425.65,107.29 426.15,107.07 426.65,106.88 427.15,106.68 427.65,106.49 428.15,106.30 428.65,106.12 429.15,105.95 429.65,105.80 430.15,105.70 430.65,105.64 431.15,105.61 431.65,105.60 432.15,105.60 432.65,105.60 433.15,105.62 433.65,105.66 434.15,105.76 434.65,105.94 435.15,106.20 435.65,106.52 436.15,106.87 436.65,107.23 437.15,107.59 437.65,107.95 438.15,108.29 438.65,108.62 439.15,108.91 439.65,109.18 440.15,109.44 440.65,109.68 441.15,109.92 441.65,110.14 442.15,110.31 442.65,110.41 443.15,110.43 443.65,110.40 444.15,110.33 444.65,110.25 445.15,110.16 445.65,110.03 446.15,109.84 446.65,109.56 447.15,109.22 447.65,108.83 448.15,108.43 448.65,108.01 449.15,107.57 449.65,107.11 450.15,106.59 450.65,106.02 451.15,105.42 451.65,104.79 452.15,104.15 452.65,103.51 453.15,102.87 453.65,102.23 454.15,101.61 454.65,101.00 455.15,100.42 455.65,99.88 456.15,99.36 456.65,98.85 457.15,98.35 457.65,97.85 458.15,97.35 458.65,96.85 459.15,96.33 459.65,95.80 460.15,95.23 460.65,94.62 461.15,93.99 461.65,93.34 462.15,92.69 462.65,92.02 463.15,91.31 463.65,90.54 464.15,89.68 464.65,88.74 465.15,87.75 465.65,86.75 466.15,85.73 466.65,84.72 467.15,83.69 467.65,82.65 468.15,81.60 468.65,80.54 469.15,79.48 469.65,78.42 470.15,77.38 470.65,76.38 471.15,75.47 471.65,74.68 472.15,73.99 472.65,73.37 473.15,72.78 473.65,72.20 474.15,71.64 474.65,71.14 475.15,70.72 475.65,70.39 476.15,70.13 476.65,69.90 477.15,69.69 477.65,69.48 478.15,69.28 478.65,69.11 479.15,68.98 479.65,68.87 480.15,68.78 480.65,68.70 481.15,68.62 481.65,68.54 482.15,68.46 482.65,68.38 483.15,68.30 483.65,68.23 484.15,68.20 484.65,68.24 485.15,68.39 485.65,68.66 486.15,69.03 486.65,69.45 487.15,69.91 487.65,70.42 488.15,71.00 488.65,71.66 489.15,72.39 489.65,73.14 490.15,73.89 490.65,74.61 491.15,75.28 491.65,75.87 492.15,76.40 492.65,76.88 493.15,77.33 493.65,77.73 494.15,78.05 494.65,78.26 495.15,78.35 495.65,78.37 496.15,78.34 496.65,78.30 497.15,78.25 497.65,78.21 498.15,78.17 498.65,78.12 499.15,78.08 499.65,78.04 500.15,78.00 500.65,77.96 501.15,77.92 501.65,77.89 502.15,77.86 502.65,77.82 503.15,77.79 503.65,77.76 504.15,77.72 504.65,77.69 505.15,77.66 505.65,77.62 506.15,77.59 506.65,77.54 507.15,77.49 507.65,77.40 508.15,77.30 508.65,77.16 509.15,77.00 509.65,76.78 510.15,76.49 510.65,76.12 511.15,75.70 511.65,75.24 512.15,74.78 512.65,74.35 513.15,73.96 513.65,73.65 514.15,73.42 514.65,73.26 515.15,73.13 515.65,73.02 516.15,72.93 516.65,72.87 517.15,72.88 517.65,72.95 518.15,73.07 518.65,73.21 519.15,73.36 519.65,73.51 520.15,73.64 520.65,73.74 521.15,73.76 521.65,73.69 522.15,73.54 522.65,73.33 523.15,73.10 523.65,72.87 524.15,72.64 524.65,72.40 525.15,72.17 525.65,71.95 526.15,71.73 526.65,71.51 527.15,71.30 527.65,71.09 528.15,70.90 528.65,70.76 529.15,70.69 529.65,70.69 530.15,70.75 530.65,70.84 531.15,70.94 531.65,71.07 532.15,71.24 532.65,71.47 533.15,71.78 533.65,72.14 534.15,72.52 534.65,72.93 535.15,73.34 535.65,73.79 536.15,74.28 536.65,74.82 537.15,75.39 537.65,75.98 538.15,76.58 538.65,77.19 539.15,77.82 539.65,78.46 540.15,79.13 540.65,79.82 541.15,80.51 541.65,81.22 542.15,81.96 542.65,82.75 543.15,83.63 543.65,84.61 544.15,85.66 544.65,86.73 545.15,87.77 545.65,88.74 546.15,89.61 546.65,90.36 547.15,91.04 547.65,91.66 548.15,92.24 548.65,92.75 549.15,93.18 549.65,93.54 550.15,93.86 550.65,94.17 551.15,94.47 551.65,94.78 552.15,95.09 552.65,95.42 553.15,95.76 553.65,96.09 554.15,96.43 554.65,96.76 555.15,97.05 555.65,97.27 556.15,97.40 556.65,97.47 557.15,97.49 557.65,97.50 558.15,97.50 558.65,97.50 559.15,97.50 559.65,97.50 560.15,97.50 560.65,97.51 561.15,97.56 561.65,97.66 562.15,97.87 562.65,98.18 563.15,98.58 563.65,99.02 564.15,99.47 564.65,99.93 565.15,100.40 565.65,100.87 566.15,101.36 566.65,101.88 567.15,102.41 567.65,102.96 568.15,103.52 568.65,104.08 569.15,104.65 569.65,105.25 570.15,105.91 570.65,106.63 571.15,107.42 571.65,108.23 572.15,109.07 572.65,109.91 573.15,110.75 573.65,111.61 574.15,112.50 574.65,113.42 575.15,114.38 575.65,115.35 576.15,116.33 576.65,117.33 577.15,118.33 577.65,119.35 578.15,120.37 578.65,121.41 579.15,122.47 579.65,123.55 580.15,124.65 580.65,125.75 581.15,126.86 581.65,127.98 582.15,129.15 582.65,130.41 583.15,131.78 583.65,133.26 584.15,134.80 584.65,136.39 585.15,138.00 585.65,139.67 586.15,141.39 586.65,143.15 587.15,144.94 587.65,146.75 588.15,148.58 588.65,150.42 589.15,152.30 589.65,154.25 590.15,156.32 590.65,158.52 591.15,160.76 591.50,163.00" fill="none" stroke="#6446ee" stroke-width="1.55" stroke-linejoin="round" stroke-linecap="round"/>
<polyline points="0.65,69.00 1.15,69.55 1.65,70.09 2.15,70.64 2.65,71.18 3.15,71.73 3.65,72.27 4.15,72.81 4.65,73.32 5.15,73.82 5.65,74.28 6.15,74.72 6.65,75.15 7.15,75.58 7.65,76.00 8.15,76.43 8.65,76.85 9.15,77.27 9.65,77.67 10.15,78.05 10.65,78.40 11.15,78.74 11.65,79.07 12.15,79.40 12.65,79.72 13.15,80.05 13.65,80.37 14.15,80.70 14.65,81.02 15.15,81.34 15.65,81.66 16.15,81.97 16.65,82.29 17.15,82.60 17.65,82.92 18.15,83.23 18.65,83.55 19.15,83.86 19.65,84.17 20.15,84.47 20.65,84.76 21.15,85.05 21.65,85.34 22.15,85.63 22.65,85.91 23.15,86.20 23.65,86.48 24.15,86.76 24.65,87.03 25.15,87.28 25.65,87.52 26.15,87.74 26.65,87.96 27.15,88.17 27.65,88.39 28.15,88.60 28.65,88.82 29.15,89.02 29.65,89.22 30.15,89.40 30.65,89.56 31.15,89.70 31.65,89.84 32.15,89.97 32.65,90.10 33.15,90.21 33.65,90.30 34.15,90.36 34.65,90.39 35.15,90.40 35.65,90.40 36.15,90.40 36.65,90.40 37.15,90.40 37.65,90.40 38.15,90.40 38.65,90.40 39.15,90.40 39.65,90.39 40.15,90.37 40.65,90.30 41.15,90.14 41.65,89.86 42.15,89.48 42.65,89.03 43.15,88.53 43.65,87.99 44.15,87.41 44.65,86.78 45.15,86.13 45.65,85.47 46.15,84.80 46.65,84.14 47.15,83.49 47.65,82.85 48.15,82.23 48.65,81.62 49.15,81.00 49.65,80.35 50.15,79.66 50.65,78.92 51.15,78.15 51.65,77.38 52.15,76.62 52.65,75.89 53.15,75.21 53.65,74.55 54.15,73.91 54.65,73.28 55.15,72.64 55.65,72.00 56.15,71.35 56.65,70.70 57.15,70.03 57.65,69.36 58.15,68.69 58.65,68.02 59.15,67.35 59.65,66.69 60.15,66.04 60.65,65.39 61.15,64.74 61.65,64.08 62.15,63.40 62.65,62.68 63.15,61.93 63.65,61.15 64.15,60.36 64.65,59.56 65.15,58.77 65.65,58.00 66.15,57.27 66.65,56.58 67.15,55.94 67.65,55.31 68.15,54.68 68.65,54.01 69.15,53.30 69.65,52.54 70.15,51.75 70.65,50.96 71.15,50.16 71.65,49.38 72.15,48.60 72.65,47.86 73.15,47.15 73.65,46.45 74.15,45.77 74.65,45.10 75.15,44.42 75.65,43.75 76.15,43.07 76.65,42.39 77.15,41.70 77.65,40.99 78.15,40.26 78.65,39.53 79.15,38.80 79.65,38.11 80.15,37.48 80.65,36.90 81.15,36.36 81.65,35.85 82.15,35.35 82.65,34.85 83.15,34.35 83.65,33.86 84.15,33.38 84.65,32.94 85.15,32.55 85.65,32.22 86.15,31.94 86.65,31.69 87.15,31.47 87.65,31.27 88.15,31.10 88.65,30.95 89.15,30.81 89.65,30.67 90.15,30.53 90.65,30.40 91.15,30.27 91.65,30.15 92.15,30.05 92.65,29.98 93.15,29.95 93.65,29.94 94.15,29.95 94.65,29.96 95.15,29.98 95.65,30.02 96.15,30.08 96.65,30.19 97.15,30.33 97.65,30.49 98.15,30.66 98.65,30.83 99.15,30.99 99.65,31.13 100.15,31.24 100.65,31.33 101.15,31.39 101.65,31.44 102.15,31.49 102.65,31.56 103.15,31.64 103.65,31.74 104.15,31.84 104.65,31.95 105.15,32.08 105.65,32.22 106.15,32.37 106.65,32.53 107.15,32.69 107.65,32.85 108.15,33.01 108.65,33.17 109.15,33.33 109.65,33.49 110.15,33.66 110.65,33.85 111.15,34.07 111.65,34.34 112.15,34.65 112.65,34.99 113.15,35.33 113.65,35.68 114.15,36.03 114.65,36.38 115.15,36.74 115.65,37.10 116.15,37.48 116.65,37.88 117.15,38.30 117.65,38.73 118.15,39.17 118.65,39.61 119.15,40.05 119.65,40.49 120.15,40.93 120.65,41.37 121.15,41.81 121.65,42.25 122.15,42.68 122.65,43.12 123.15,43.55 123.65,43.99 124.15,44.42 124.65,44.86 125.15,45.29 125.65,45.73 126.15,46.16 126.65,46.60 127.15,47.03 127.65,47.47 128.15,47.90 128.65,48.34 129.15,48.77 129.65,49.21 130.15,49.64 130.65,50.07 131.15,50.48 131.65,50.89 132.15,51.28 132.65,51.66 133.15,52.04 133.65,52.42 134.15,52.80 134.65,53.19 135.15,53.57 135.65,53.97 136.15,54.39 136.65,54.84 137.15,55.31 137.65,55.80 138.15,56.30 138.65,56.80 139.15,57.30 139.65,57.80 140.15,58.30 140.65,58.82 141.15,59.34 141.65,59.89 142.15,60.45 142.65,61.03 143.15,61.60 143.65,62.19 144.15,62.77 144.65,63.36 145.15,63.97 145.65,64.58 146.15,65.21 146.65,65.84 147.15,66.48 147.65,67.12 148.15,67.78 148.65,68.47 149.15,69.21 149.65,69.99 150.15,70.80 150.65,71.63 151.15,72.49 151.65,73.39 152.15,74.33 152.65,75.29 153.15,76.24 153.65,77.14 154.15,77.97 154.65,78.73 155.15,79.46 155.65,80.18 156.15,80.91 156.65,81.67 157.15,82.45 157.65,83.23 158.15,84.00 158.65,84.75 159.15,85.44 159.65,86.11 160.15,86.75 160.65,87.37 161.15,88.00 161.65,88.62 162.15,89.25 162.65,89.87 163.15,90.50 163.65,91.12 164.15,91.75 164.65,92.38 165.15,93.00 165.65,93.63 166.15,94.25 166.65,94.88 167.15,95.50 167.65,96.13 168.15,96.78 168.65,97.46 169.15,98.18 169.65,98.94 170.15,99.71 170.65,100.50 171.15,101.29 171.65,102.08 172.15,102.87 172.65,103.65 173.15,104.43 173.65,105.21 174.15,105.97 174.65,106.72 175.15,107.47 175.65,108.22 176.15,108.97 176.65,109.71 177.15,110.43 177.65,111.12 178.15,111.78 178.65,112.42 179.15,113.04 179.65,113.67 180.15,114.29 180.65,114.91 181.15,115.52 181.65,116.13 182.15,116.72 182.65,117.27 183.15,117.80 183.65,118.30 184.15,118.79 184.65,119.27 185.15,119.75 185.65,120.24 186.15,120.72 186.65,121.20 187.15,121.68 187.65,122.15 188.15,122.61 188.65,123.06 189.15,123.50 189.65,123.93 190.15,124.37 190.65,124.80 191.15,125.24 191.65,125.67 192.15,126.11 192.65,126.54 193.15,126.97 193.65,127.38 194.15,127.78 194.65,128.17 195.15,128.55 195.65,128.92 196.15,129.30 196.65,129.67 197.15,130.05 197.65,130.41 198.15,130.76 198.65,131.07 199.15,131.33 199.65,131.54 200.15,131.73 200.65,131.91 201.15,132.09 201.65,132.26 202.15,132.44 202.65,132.61 203.15,132.79 203.65,132.96 204.15,133.13 204.65,133.31 205.15,133.48 205.65,133.65 206.15,133.82 206.65,133.99 207.15,134.16 207.65,134.33 208.15,134.51 208.65,134.70 209.15,134.90 209.65,135.12 210.15,135.35 210.65,135.57 211.15,135.80 211.65,136.03 212.15,136.26 212.65,136.49 213.15,136.71 213.65,136.92 214.15,137.12 214.65,137.31 215.15,137.48 215.65,137.66 216.15,137.83 216.65,137.98 217.15,138.11 217.65,138.19 218.15,138.22 218.65,138.22 219.15,138.20 219.65,138.17 220.15,138.14 220.65,138.11 221.15,138.07 221.65,138.03 222.15,137.95 222.65,137.83 223.15,137.66 223.65,137.45 224.15,137.23 224.65,137.00 225.15,136.77 225.65,136.55 226.15,136.36 226.65,136.19 227.15,136.05 227.65,135.92 228.15,135.79 228.65,135.67 229.15,135.55 229.65,135.43 230.15,135.31 230.65,135.19 231.15,135.08 231.65,134.96 232.15,134.86 232.65,134.77 233.15,134.70 233.65,134.64 234.15,134.59 234.65,134.54 235.15,134.49 235.65,134.44 236.15,134.39 236.65,134.33 237.15,134.28 237.65,134.23 238.15,134.18 238.65,134.13 239.15,134.07 239.65,133.99 240.15,133.89 240.65,133.76 241.15,133.61 241.65,133.44 242.15,133.28 242.65,133.11 243.15,132.94 243.65,132.77 244.15,132.61 244.65,132.44 245.15,132.28 245.65,132.13 246.15,132.00 246.65,131.90 247.15,131.82 247.65,131.76 248.15,131.70 248.65,131.65 249.15,131.60 249.65,131.55 250.15,131.49 250.65,131.44 251.15,131.39 251.65,131.32 252.15,131.24 252.65,131.13 253.15,130.98 253.65,130.82 254.15,130.64 254.65,130.45 255.15,130.27 255.65,130.08 256.15,129.90 256.65,129.72 257.15,129.54 257.65,129.36 258.15,129.19 258.65,129.02 259.15,128.86 259.65,128.69 260.15,128.53 260.65,128.36 261.15,128.20 261.65,128.06 262.15,127.96 262.65,127.91 263.15,127.93 263.65,127.99 264.15,128.08 264.65,128.18 265.15,128.28 265.65,128.38 266.15,128.47 266.65,128.57 267.15,128.66 267.65,128.75 268.15,128.84 268.65,128.93 269.15,129.02 269.65,129.11 270.15,129.20 270.65,129.27 271.15,129.33 271.65,129.37 272.15,129.39 272.65,129.40 273.15,129.40 273.65,129.40 274.15,129.40 274.65,129.40 275.15,129.39 275.65,129.37 276.15,129.32 276.65,129.24 277.15,129.13 277.65,129.00 278.15,128.87 278.65,128.73 279.15,128.59 279.65,128.45 280.15,128.32 280.65,128.20 281.15,128.10 281.65,128.04 282.15,128.01 282.65,128.00 283.15,128.00 283.65,128.00 284.15,128.00 284.65,128.00 285.15,128.01 285.65,128.03 286.15,128.08 286.65,128.16 287.15,128.27 287.65,128.40 288.15,128.53 288.65,128.67 289.15,128.81 289.65,128.95 290.15,129.09 290.65,129.23 291.15,129.38 291.65,129.52 292.15,129.67 292.65,129.81 293.15,129.96 293.65,130.11 294.15,130.26 294.65,130.41 295.15,130.55 295.65,130.70 296.15,130.85 296.65,131.00 297.15,131.16 297.65,131.34 298.15,131.52 298.65,131.71 299.15,131.91 299.65,132.11 300.15,132.31 300.65,132.51 301.15,132.71 301.65,132.91 302.15,133.11 302.65,133.31 303.15,133.52 303.65,133.74 304.15,133.97 304.65,134.21 305.15,134.46 305.65,134.71 306.15,134.96 306.65,135.21 307.15,135.46 307.65,135.72 308.15,135.97 308.65,136.22 309.15,136.49 309.65,136.78 310.15,137.09 310.65,137.45 311.15,137.83 311.65,138.22 312.15,138.62 312.65,139.02 313.15,139.42 313.65,139.82 314.15,140.22 314.65,140.62 315.15,141.04 315.65,141.48 316.15,141.96 316.65,142.52 317.15,143.13 317.65,143.77 318.15,144.43 318.65,145.10 319.15,145.77 319.65,146.44 320.15,147.11 320.65,147.79 321.15,148.46 321.65,149.14 322.15,149.82 322.65,150.50 323.15,151.18 323.65,151.85 324.15,152.52 324.65,153.19 325.15,153.85 325.65,154.51 326.15,155.16 326.65,155.80 327.15,156.41 327.65,157.00 328.15,157.57 328.65,158.12 329.15,158.68 329.65,159.23 330.15,159.78 330.65,160.33 331.15,160.87 331.65,161.41 332.15,161.94 332.65,162.47 333.15,162.99 333.65,163.52 334.15,164.04 334.65,164.57 335.15,165.09 335.65,165.60 336.15,166.10 336.65,166.57 337.15,167.02 337.65,167.47 338.15,167.90 338.65,168.34 339.15,168.77 339.65,169.21 340.15,169.64 340.65,170.07 341.15,170.48 341.65,170.89 342.15,171.28 342.65,171.66 343.15,172.04 343.65,172.42 344.15,172.80 344.65,173.18 345.15,173.54 345.65,173.88 346.15,174.15 346.65,174.35 347.15,174.47 347.65,174.56 348.15,174.63 348.65,174.69 349.15,174.75 349.65,174.81 350.15,174.87 350.65,174.94 351.15,175.01 351.65,175.09 352.15,175.18 352.65,175.28 353.15,175.38 353.65,175.48 354.15,175.58 354.65,175.68 355.15,175.78 355.65,175.87 356.15,175.96 356.65,176.05 357.15,176.12 357.65,176.20 358.15,176.27 358.65,176.34 359.15,176.41 359.65,176.47 360.15,176.54 360.65,176.59 361.15,176.63 361.65,176.64 362.15,176.63 362.65,176.61 363.15,176.57 363.65,176.50 364.15,176.38 364.65,176.20 365.15,175.94 365.65,175.64 366.15,175.31 366.65,174.96 367.15,174.60 367.65,174.22 368.15,173.81 368.65,173.39 369.15,172.97 369.65,172.57 370.15,172.21 370.65,171.89 371.15,171.60 371.65,171.32 372.15,171.06 372.65,170.79 373.15,170.54 373.65,170.31 374.15,170.11 374.65,169.92 375.15,169.75 375.65,169.59 376.15,169.43 376.65,169.25 377.15,169.06 377.65,168.84 378.15,168.58 378.65,168.30 379.15,168.01 379.65,167.72 380.15,167.43 380.65,167.14 381.15,166.86 381.65,166.58 382.15,166.30 382.65,166.02 383.15,165.74 383.65,165.46 384.15,165.18 384.65,164.90 385.15,164.62 385.65,164.35 386.15,164.08 386.65,163.81 387.15,163.54 387.65,163.27 388.15,163.00 388.65,162.73 389.15,162.47 389.65,162.22 390.15,161.98 390.65,161.77 391.15,161.56 391.65,161.37 392.15,161.17 392.65,160.98 393.15,160.79 393.65,160.60 394.15,160.41 394.65,160.21 395.15,160.02 395.65,159.81 396.15,159.60 396.65,159.36 397.15,159.11 397.65,158.85 398.15,158.58 398.65,158.31 399.15,158.05 399.65,157.78 400.15,157.51 400.65,157.24 401.15,156.97 401.65,156.69 402.15,156.40 402.65,156.08 403.15,155.74 403.65,155.38 404.15,155.01 404.65,154.64 405.15,154.26 405.65,153.89 406.15,153.51 406.65,153.11 407.15,152.68 407.65,152.21 408.15,151.68 408.65,151.11 409.15,150.52 409.65,149.92 410.15,149.32 410.65,148.73 411.15,148.14 411.65,147.56 412.15,146.98 412.65,146.41 413.15,145.85 413.65,145.28 414.15,144.73 414.65,144.19 415.15,143.67 415.65,143.17 416.15,142.70 416.65,142.24 417.15,141.78 417.65,141.32 418.15,140.86 418.65,140.40 419.15,139.94 419.65,139.48 420.15,139.02 420.65,138.58 421.15,138.16 421.65,137.77 422.15,137.41 422.65,137.07 423.15,136.73 423.65,136.40 424.15,136.07 424.65,135.75 425.15,135.44 425.65,135.15 426.15,134.86 426.65,134.58 427.15,134.30 427.65,134.02 428.15,133.74 428.65,133.46 429.15,133.19 429.65,132.94 430.15,132.72 430.65,132.54 431.15,132.37 431.65,132.22 432.15,132.08 432.65,131.93 433.15,131.79 433.65,131.64 434.15,131.50 434.65,131.35 435.15,131.20 435.65,131.06 436.15,130.91 436.65,130.76 437.15,130.61 437.65,130.47 438.15,130.32 438.65,130.17 439.15,130.02 439.65,129.87 440.15,129.72 440.65,129.56 441.15,129.38 441.65,129.18 442.15,128.96 442.65,128.73 443.15,128.49 443.65,128.25 444.15,128.01 444.65,127.77 445.15,127.52 445.65,127.27 446.15,127.00 446.65,126.71 447.15,126.41 447.65,126.09 448.15,125.76 448.65,125.44 449.15,125.12 449.65,124.79 450.15,124.47 450.65,124.16 451.15,123.86 451.65,123.57 452.15,123.31 452.65,123.05 453.15,122.80 453.65,122.55 454.15,122.30 454.65,122.05 455.15,121.81 455.65,121.57 456.15,121.36 456.65,121.17 457.15,121.01 457.65,120.86 458.15,120.72 458.65,120.57 459.15,120.42 459.65,120.25 460.15,120.05 460.65,119.82 461.15,119.57 461.65,119.31 462.15,119.04 462.65,118.77 463.15,118.50 463.65,118.23 464.15,117.95 464.65,117.65 465.15,117.33 465.65,116.99 466.15,116.63 466.65,116.26 467.15,115.89 467.65,115.51 468.15,115.14 468.65,114.76 469.15,114.38 469.65,113.98 470.15,113.57 470.65,113.14 471.15,112.69 471.65,112.24 472.15,111.79 472.65,111.36 473.15,110.95 473.65,110.57 474.15,110.21 474.65,109.86 475.15,109.51 475.65,109.16 476.15,108.80 476.65,108.44 477.15,108.07 477.65,107.70 478.15,107.32 478.65,106.95 479.15,106.57 479.65,106.20 480.15,105.82 480.65,105.42 481.15,105.01 481.65,104.56 482.15,104.09 482.65,103.60 483.15,103.10 483.65,102.60 484.15,102.10 484.65,101.60 485.15,101.11 485.65,100.63 486.15,100.17 486.65,99.74 487.15,99.34 487.65,98.95 488.15,98.58 488.65,98.20 489.15,97.83 489.65,97.45 490.15,97.08 490.65,96.73 491.15,96.39 491.65,96.09 492.15,95.81 492.65,95.55 493.15,95.30 493.65,95.05 494.15,94.80 494.65,94.55 495.15,94.30 495.65,94.05 496.15,93.80 496.65,93.55 497.15,93.30 497.65,93.05 498.15,92.80 498.65,92.55 499.15,92.30 499.65,92.05 500.15,91.81 500.65,91.58 501.15,91.39 501.65,91.23 502.15,91.11 502.65,91.02 503.15,90.93 503.65,90.84 504.15,90.76 504.65,90.68 505.15,90.60 505.65,90.56 506.15,90.57 506.65,90.65 507.15,90.79 507.65,90.97 508.15,91.16 508.65,91.37 509.15,91.58 509.65,91.82 510.15,92.10 510.65,92.43 511.15,92.78 511.65,93.15 512.15,93.52 512.65,93.90 513.15,94.28 513.65,94.65 514.15,95.03 514.65,95.39 515.15,95.76 515.65,96.11 516.15,96.47 516.65,96.82 517.15,97.18 517.65,97.53 518.15,97.89 518.65,98.25 519.15,98.61 519.65,98.99 520.15,99.39 520.65,99.82 521.15,100.27 521.65,100.73 522.15,101.19 522.65,101.66 523.15,102.12 523.65,102.58 524.15,103.05 524.65,103.52 525.15,103.99 525.65,104.47 526.15,104.96 526.65,105.45 527.15,105.95 527.65,106.45 528.15,106.95 528.65,107.45 529.15,107.95 529.65,108.45 530.15,108.96 530.65,109.48 531.15,110.02 531.65,110.60 532.15,111.20 532.65,111.82 533.15,112.44 533.65,113.06 534.15,113.67 534.65,114.26 535.15,114.79 535.65,115.27 536.15,115.69 536.65,116.08 537.15,116.46 537.65,116.84 538.15,117.21 538.65,117.59 539.15,117.98 539.65,118.39 540.15,118.83 540.65,119.30 541.15,119.79 541.65,120.30 542.15,120.81 542.65,121.33 543.15,121.85 543.65,122.38 544.15,122.93 544.65,123.56 545.15,124.29 545.65,125.14 546.15,126.08 546.65,127.06 547.15,128.05 547.65,129.04 548.15,130.02 548.65,130.96 549.15,131.86 549.65,132.73 550.15,133.58 550.65,134.42 551.15,135.25 551.65,136.09 552.15,136.95 552.65,137.82 553.15,138.71 553.65,139.62 554.15,140.54 554.65,141.46 555.15,142.38 555.65,143.32 556.15,144.28 556.65,145.28 557.15,146.30 557.65,147.33 558.15,148.37 558.65,149.40 559.15,150.41 559.65,151.38 560.15,152.32 560.65,153.22 561.15,154.12 561.65,155.01 562.15,155.91 562.65,156.83 563.15,157.77 563.65,158.73 564.15,159.69 564.65,160.66 565.15,161.63 565.65,162.60 566.15,163.57 566.65,164.56 567.15,165.55 567.65,166.55 568.15,167.55 568.65,168.55 569.15,169.54 569.65,170.51 570.15,171.47 570.65,172.40 571.15,173.31 571.65,174.22 572.15,175.12 572.65,176.02 573.15,176.91 573.65,177.80 574.15,178.68 574.65,179.56 575.15,180.43 575.65,181.29 576.15,182.16 576.65,183.03 577.15,183.89 577.65,184.76 578.15,185.63 578.65,186.49 579.15,187.36 579.65,188.23 580.15,189.10 580.65,189.97 581.15,190.86 581.65,191.77 582.15,192.69 582.65,193.62 583.15,194.55 583.65,195.49 584.15,196.45 584.65,197.46 585.15,198.55 585.65,199.71 586.15,200.93 586.65,202.18 587.15,203.45 587.65,204.71 588.15,205.96 588.65,207.21 589.15,208.43 589.65,209.63 590.15,210.82 590.65,211.98 591.15,213.08 591.65,214.08 591.90,215.00" fill="none" stroke="#6446ee" stroke-width="1.55" stroke-linejoin="round" stroke-linecap="round"/>
<polyline points="0.65,104.50 1.15,104.96 1.65,105.42 2.15,105.88 2.65,106.34 3.15,106.80 3.65,107.25 4.15,107.67 4.65,108.03 5.15,108.31 5.65,108.49 6.15,108.60 6.65,108.67 7.15,108.73 7.65,108.78 8.15,108.84 8.65,108.89 9.15,108.94 9.65,109.00 10.15,109.05 10.65,109.10 11.15,109.16 11.65,109.22 12.15,109.30 12.65,109.40 13.15,109.52 13.65,109.66 14.15,109.82 14.65,109.97 15.15,110.13 15.65,110.28 16.15,110.44 16.65,110.59 17.15,110.75 17.65,110.90 18.15,111.05 18.65,111.17 19.15,111.28 19.65,111.37 20.15,111.45 20.65,111.52 21.15,111.59 21.65,111.66 22.15,111.73 22.65,111.80 23.15,111.86 23.65,111.91 24.15,111.92 24.65,111.91 25.15,111.87 25.65,111.82 26.15,111.77 26.65,111.72 27.15,111.66 27.65,111.60 28.15,111.50 28.65,111.35 29.15,111.13 29.65,110.84 30.15,110.51 30.65,110.17 31.15,109.82 31.65,109.47 32.15,109.12 32.65,108.79 33.15,108.48 33.65,108.23 34.15,108.06 34.65,107.95 35.15,107.88 35.65,107.82 36.15,107.78 36.65,107.75 37.15,107.75 37.65,107.83 38.15,108.04 38.65,108.39 39.15,108.83 39.65,109.33 40.15,109.85 40.65,110.37 41.15,110.90 41.65,111.42 42.15,111.95 42.65,112.47 43.15,113.00 43.65,113.53 44.15,114.05 44.65,114.58 45.15,115.10 45.65,115.60 46.15,116.10 46.65,116.57 47.15,117.03 47.65,117.48 48.15,117.93 48.65,118.38 49.15,118.83 49.65,119.28 50.15,119.70 50.65,120.10 51.15,120.43 51.65,120.71 52.15,120.95 52.65,121.16 53.15,121.36 53.65,121.56 54.15,121.76 54.65,121.95 55.15,122.10 55.65,122.20 56.15,122.20 56.65,122.09 57.15,121.90 57.65,121.67 58.15,121.42 58.65,121.17 59.15,120.92 59.65,120.66 60.15,120.36 60.65,119.98 61.15,119.47 61.65,118.84 62.15,118.10 62.65,117.31 63.15,116.50 63.65,115.68 64.15,114.84 64.65,113.96 65.15,113.00 65.65,111.98 66.15,110.90 66.65,109.78 67.15,108.66 67.65,107.52 68.15,106.36 68.65,105.13 69.15,103.80 69.65,102.37 70.15,100.86 70.65,99.31 71.15,97.75 71.65,96.22 72.15,94.73 72.65,93.33 73.15,92.01 73.65,90.75 74.15,89.51 74.65,88.25 75.15,86.93 75.65,85.56 76.15,84.13 76.65,82.69 77.15,81.25 77.65,79.84 78.15,78.48 78.65,77.15 79.15,75.82 79.65,74.44 80.15,72.95 80.65,71.34 81.15,69.62 81.65,67.83 82.15,66.00 82.65,64.13 83.15,62.26 83.65,60.41 84.15,58.62 84.65,56.92 85.15,55.31 85.65,53.78 86.15,52.29 86.65,50.86 87.15,49.49 87.65,48.21 88.15,47.02 88.65,45.93 89.15,44.94 89.65,44.04 90.15,43.22 90.65,42.48 91.15,41.81 91.65,41.20 92.15,40.66 92.65,40.22 93.15,39.92 93.65,39.75 94.15,39.71 94.65,39.73 95.15,39.82 95.65,39.98 96.15,40.22 96.65,40.52 97.15,40.86 97.65,41.20 98.15,41.53 98.65,41.81 99.15,42.04 99.65,42.22 100.15,42.37 100.65,42.51 101.15,42.64 101.65,42.78 102.15,42.93 102.65,43.08 103.15,43.25 103.65,43.43 104.15,43.62 104.65,43.81 105.15,44.01 105.65,44.23 106.15,44.51 106.65,44.86 107.15,45.28 107.65,45.75 108.15,46.27 108.65,46.85 109.15,47.50 109.65,48.19 110.15,48.93 110.65,49.72 111.15,50.58 111.65,51.55 112.15,52.62 112.65,53.74 113.15,54.89 113.65,56.07 114.15,57.28 114.65,58.50 115.15,59.73 115.65,60.91 116.15,62.00 116.65,62.99 117.15,63.88 117.65,64.71 118.15,65.50 118.65,66.27 119.15,66.99 119.65,67.64 120.15,68.24 120.65,68.80 121.15,69.35 121.65,69.94 122.15,70.58 122.65,71.29 123.15,72.06 123.65,72.84 124.15,73.64 124.65,74.45 125.15,75.27 125.65,76.09 126.15,76.92 126.65,77.75 127.15,78.58 127.65,79.38 128.15,80.13 128.65,80.77 129.15,81.27 129.65,81.64 130.15,81.93 130.65,82.20 131.15,82.45 131.65,82.70 132.15,82.95 132.65,83.22 133.15,83.50 133.65,83.84 134.15,84.23 134.65,84.68 135.15,85.16 135.65,85.65 136.15,86.15 136.65,86.65 137.15,87.15 137.65,87.65 138.15,88.16 138.65,88.69 139.15,89.22 139.65,89.77 140.15,90.33 140.65,90.90 141.15,91.46 141.65,92.03 142.15,92.60 142.65,93.20 143.15,93.87 143.65,94.68 144.15,95.66 144.65,96.79 145.15,98.02 145.65,99.28 146.15,100.54 146.65,101.77 147.15,102.96 147.65,104.09 148.15,105.18 148.65,106.21 149.15,107.21 149.65,108.19 150.15,109.16 150.65,110.15 151.15,111.17 151.65,112.25 152.15,113.37 152.65,114.52 153.15,115.69 153.65,116.86 154.15,118.04 154.65,119.24 155.15,120.48 155.65,121.77 156.15,123.08 156.65,124.40 157.15,125.73 157.65,127.05 158.15,128.33 158.65,129.55 159.15,130.69 159.65,131.76 160.15,132.79 160.65,133.80 161.15,134.79 161.65,135.76 162.15,136.68 162.65,137.53 163.15,138.30 163.65,139.02 164.15,139.70 164.65,140.36 165.15,141.01 165.65,141.64 166.15,142.20 166.65,142.69 167.15,143.11 167.65,143.49 168.15,143.85 168.65,144.21 169.15,144.58 169.65,144.99 170.15,145.49 170.65,146.14 171.15,146.97 171.65,147.95 172.15,149.00 172.65,150.07 173.15,151.11 173.65,152.10 174.15,152.99 174.65,153.82 175.15,154.60 175.65,155.33 176.15,156.00 176.65,156.55 177.15,156.93 177.65,157.13 178.15,157.22 178.65,157.24 179.15,157.25 179.65,157.25 180.15,157.23 180.65,157.19 181.15,157.09 181.65,156.91 182.15,156.68 182.65,156.40 183.15,156.11 183.65,155.80 184.15,155.47 184.65,155.08 185.15,154.62 185.65,154.06 186.15,153.45 186.65,152.80 187.15,152.13 187.65,151.47 188.15,150.81 188.65,150.17 189.15,149.55 189.65,148.94 190.15,148.34 190.65,147.76 191.15,147.22 191.65,146.77 192.15,146.44 192.65,146.22 193.15,146.09 193.65,145.99 194.15,145.91 194.65,145.84 195.15,145.78 195.65,145.74 196.15,145.75 196.65,145.82 197.15,145.94 197.65,146.09 198.15,146.26 198.65,146.43 199.15,146.60 199.65,146.76 200.15,146.90 200.65,147.03 201.15,147.15 201.65,147.26 202.15,147.37 202.65,147.48 203.15,147.59 203.65,147.70 204.15,147.81 204.65,147.92 205.15,148.02 205.65,148.13 206.15,148.23 206.65,148.33 207.15,148.43 207.65,148.53 208.15,148.63 208.65,148.73 209.15,148.85 209.65,148.98 210.15,149.14 210.65,149.34 211.15,149.56 211.65,149.79 212.15,150.03 212.65,150.26 213.15,150.46 213.65,150.61 214.15,150.69 214.65,150.72 215.15,150.72 215.65,150.70 216.15,150.67 216.65,150.65 217.15,150.63 217.65,150.61 218.15,150.61 218.65,150.60 219.15,150.60 219.65,150.60 220.15,150.60 220.65,150.60 221.15,150.61 221.65,150.62 222.15,150.66 222.65,150.74 223.15,150.86 223.65,151.01 224.15,151.17 224.65,151.34 225.15,151.51 225.65,151.66 226.15,151.77 226.65,151.85 227.15,151.88 227.65,151.90 228.15,151.90 228.65,151.90 229.15,151.90 229.65,151.90 230.15,151.90 230.65,151.90 231.15,151.90 231.65,151.90 232.15,151.90 232.65,151.90 233.15,151.90 233.65,151.90 234.15,151.90 234.65,151.90 235.15,151.90 235.65,151.90 236.15,151.90 236.65,151.90 237.15,151.90 237.65,151.90 238.15,151.90 238.65,151.90 239.15,151.90 239.65,151.90 240.15,151.90 240.65,151.90 241.15,151.90 241.65,151.90 242.15,151.90 242.65,151.90 243.15,151.90 243.65,151.90 244.15,151.90 244.65,151.90 245.15,151.88 245.65,151.85 246.15,151.76 246.65,151.62 247.15,151.42 247.65,151.18 248.15,150.94 248.65,150.69 249.15,150.44 249.65,150.21 250.15,149.99 250.65,149.80 251.15,149.62 251.65,149.45 252.15,149.28 252.65,149.12 253.15,148.95 253.65,148.78 254.15,148.62 254.65,148.45 255.15,148.28 255.65,148.11 256.15,147.93 256.65,147.71 257.15,147.42 257.65,147.00 258.15,146.45 258.65,145.80 259.15,145.11 259.65,144.41 260.15,143.75 260.65,143.16 261.15,142.66 261.65,142.22 262.15,141.83 262.65,141.47 263.15,141.15 263.65,140.92 264.15,140.79 264.65,140.76 265.15,140.79 265.65,140.86 266.15,140.97 266.65,141.16 267.15,141.44 267.65,141.81 268.15,142.25 268.65,142.68 269.15,143.05 269.65,143.31 270.15,143.46 270.65,143.54 271.15,143.57 271.65,143.60 272.15,143.62 272.65,143.65 273.15,143.67 273.65,143.69 274.15,143.73 274.65,143.79 275.15,143.87 275.65,143.99 276.15,144.14 276.65,144.30 277.15,144.47 277.65,144.63 278.15,144.78 278.65,144.91 279.15,145.01 279.65,145.10 280.15,145.17 280.65,145.23 281.15,145.29 281.65,145.35 282.15,145.41 282.65,145.47 283.15,145.53 283.65,145.59 284.15,145.64 284.65,145.70 285.15,145.76 285.65,145.81 286.15,145.87 286.65,145.92 287.15,145.98 287.65,146.04 288.15,146.09 288.65,146.15 289.15,146.21 289.65,146.27 290.15,146.35 290.65,146.43 291.15,146.52 291.65,146.62 292.15,146.71 292.65,146.81 293.15,146.90 293.65,147.00 294.15,147.10 294.65,147.20 295.15,147.30 295.65,147.44 296.15,147.62 296.65,147.86 297.15,148.15 297.65,148.47 298.15,148.82 298.65,149.16 299.15,149.53 299.65,149.93 300.15,150.40 300.65,150.98 301.15,151.64 301.65,152.36 302.15,153.11 302.65,153.88 303.15,154.68 303.65,155.50 304.15,156.35 304.65,157.22 305.15,158.10 305.65,158.96 306.15,159.78 306.65,160.54 307.15,161.23 307.65,161.88 308.15,162.49 308.65,163.10 309.15,163.71 309.65,164.32 310.15,164.95 310.65,165.65 311.15,166.45 311.65,167.39 312.15,168.46 312.65,169.60 313.15,170.80 313.65,172.05 314.15,173.40 314.65,174.87 315.15,176.46 315.65,178.15 316.15,179.88 316.65,181.63 317.15,183.38 317.65,185.13 318.15,186.89 318.65,188.67 319.15,190.49 319.65,192.37 320.15,194.27 320.65,196.12 321.15,197.79 321.65,199.22 322.15,200.43 322.65,201.48 323.15,202.40 323.65,203.17 324.15,203.76 324.65,204.20 325.15,204.55 325.65,204.85 326.15,205.11 326.65,205.33 327.15,205.47 327.65,205.55 328.15,205.59 328.65,205.60 329.15,205.60 329.65,205.60 330.15,205.60 330.65,205.60 331.15,205.60 331.65,205.60 332.15,205.60 332.65,205.60 333.15,205.60 333.65,205.60 334.15,205.58 334.65,205.55 335.15,205.48 335.65,205.38 336.15,205.25 336.65,205.11 337.15,204.96 337.65,204.82 338.15,204.67 338.65,204.52 339.15,204.37 339.65,204.22 340.15,204.05 340.65,203.85 341.15,203.59 341.65,203.24 342.15,202.81 342.65,202.34 343.15,201.85 343.65,201.35 344.15,200.85 344.65,200.35 345.15,199.87 345.65,199.41 346.15,199.00 346.65,198.66 347.15,198.37 347.65,198.13 348.15,197.90 348.65,197.67 349.15,197.45 349.65,197.22 350.15,197.01 350.65,196.82 351.15,196.68 351.65,196.61 352.15,196.58 352.65,196.60 353.15,196.62 353.65,196.65 354.15,196.69 354.65,196.72 355.15,196.75 355.65,196.78 356.15,196.81 356.65,196.84 357.15,196.87 357.65,196.88 358.15,196.89 358.65,196.90 359.15,196.90 359.65,196.90 360.15,196.90 360.65,196.90 361.15,196.90 361.65,196.90 362.15,196.90 362.65,196.89 363.15,196.85 363.65,196.73 364.15,196.44 364.65,195.91 365.15,195.14 365.65,194.19 366.15,193.17 366.65,192.14 367.15,191.14 367.65,190.20 368.15,189.33 368.65,188.51 369.15,187.71 369.65,186.93 370.15,186.17 370.65,185.47 371.15,184.89 371.65,184.45 372.15,184.14 372.65,183.92 373.15,183.76 373.65,183.65 374.15,183.58 374.65,183.57 375.15,183.58 375.65,183.60 376.15,183.62 376.65,183.65 377.15,183.67 377.65,183.71 378.15,183.77 378.65,183.87 379.15,184.02 379.65,184.22 380.15,184.45 380.65,184.69 381.15,184.93 381.65,185.17 382.15,185.40 382.65,185.62 383.15,185.81 383.65,185.99 384.15,186.17 384.65,186.34 385.15,186.49 385.65,186.59 386.15,186.59 386.65,186.47 387.15,186.25 387.65,185.95 388.15,185.63 388.65,185.30 389.15,184.98 389.65,184.66 390.15,184.36 390.65,184.09 391.15,183.82 391.65,183.57 392.15,183.31 392.65,183.07 393.15,182.85 393.65,182.67 394.15,182.55 394.65,182.48 395.15,182.44 395.65,182.41 396.15,182.38 396.65,182.35 397.15,182.33 397.65,182.30 398.15,182.27 398.65,182.23 399.15,182.17 399.65,182.11 400.15,182.04 400.65,181.96 401.15,181.89 401.65,181.81 402.15,181.73 402.65,181.63 403.15,181.46 403.65,181.17 404.15,180.73 404.65,180.15 405.15,179.49 405.65,178.80 406.15,178.10 406.65,177.40 407.15,176.73 407.65,176.08 408.15,175.46 408.65,174.85 409.15,174.24 409.65,173.64 410.15,173.06 410.65,172.53 411.15,172.10 411.65,171.79 412.15,171.59 412.65,171.45 413.15,171.35 413.65,171.24 414.15,171.13 414.65,170.97 415.15,170.77 415.65,170.50 416.15,170.18 416.65,169.84 417.15,169.49 417.65,169.14 418.15,168.79 418.65,168.44 419.15,168.08 419.65,167.69 420.15,167.27 420.65,166.82 421.15,166.34 421.65,165.85 422.15,165.35 422.65,164.85 423.15,164.35 423.65,163.85 424.15,163.35 424.65,162.85 425.15,162.35 425.65,161.85 426.15,161.36 426.65,160.88 427.15,160.43 427.65,160.04 428.15,159.70 428.65,159.40 429.15,159.12 429.65,158.86 430.15,158.60 430.65,158.35 431.15,158.14 431.65,157.96 432.15,157.82 432.65,157.69 433.15,157.55 433.65,157.36 434.15,157.07 434.65,156.63 435.15,156.04 435.65,155.34 436.15,154.59 436.65,153.85 437.15,153.14 437.65,152.49 438.15,151.90 438.65,151.36 439.15,150.85 439.65,150.35 440.15,149.85 440.65,149.33 441.15,148.81 441.65,148.26 442.15,147.70 442.65,147.12 443.15,146.55 443.65,145.98 444.15,145.45 444.65,144.98 445.15,144.62 445.65,144.38 446.15,144.22 446.65,144.11 447.15,144.01 447.65,143.92 448.15,143.83 448.65,143.75 449.15,143.66 449.65,143.59 450.15,143.55 450.65,143.52 451.15,143.50 451.65,143.50 452.15,143.50 452.65,143.50 453.15,143.50 453.65,143.50 454.15,143.50 454.65,143.50 455.15,143.50 455.65,143.50 456.15,143.50 456.65,143.50 457.15,143.50 457.65,143.52 458.15,143.56 458.65,143.65 459.15,143.81 459.65,144.03 460.15,144.29 460.65,144.57 461.15,144.84 461.65,145.12 462.15,145.39 462.65,145.65 463.15,145.90 463.65,146.15 464.15,146.39 464.65,146.63 465.15,146.87 465.65,147.11 466.15,147.35 466.65,147.57 467.15,147.76 467.65,147.92 468.15,148.03 468.65,148.10 469.15,148.16 469.65,148.21 470.15,148.26 470.65,148.31 471.15,148.36 471.65,148.40 472.15,148.42 472.65,148.42 473.15,148.39 473.65,148.34 474.15,148.28 474.65,148.21 475.15,148.13 475.65,148.02 476.15,147.86 476.65,147.63 477.15,147.33 477.65,146.98 478.15,146.57 478.65,146.06 479.15,145.43 479.65,144.70 480.15,143.90 480.65,143.08 481.15,142.24 481.65,141.40 482.15,140.52 482.65,139.62 483.15,138.67 483.65,137.68 484.15,136.64 484.65,135.54 485.15,134.33 485.65,133.02 486.15,131.62 486.65,130.18 487.15,128.72 487.65,127.23 488.15,125.73 488.65,124.19 489.15,122.60 489.65,120.95 490.15,119.21 490.65,117.42 491.15,115.66 491.65,114.09 492.15,112.82 492.65,111.87 493.15,111.15 493.65,110.55 494.15,110.00 494.65,109.51 495.15,109.08 495.65,108.73 496.15,108.44 496.65,108.18 497.15,107.93 497.65,107.68 498.15,107.42 498.65,107.17 499.15,106.92 499.65,106.66 500.15,106.40 500.65,106.13 501.15,105.85 501.65,105.58 502.15,105.30 502.65,105.02 503.15,104.76 503.65,104.52 504.15,104.31 504.65,104.13 505.15,104.00 505.65,103.94 506.15,104.01 506.65,104.24 507.15,104.64 507.65,105.14 508.15,105.76 508.65,106.51 509.15,107.43 509.65,108.50 510.15,109.64 510.65,110.80 511.15,111.92 511.65,112.97 512.15,113.98 512.65,114.94 513.15,115.89 513.65,116.83 514.15,117.74 514.65,118.60 515.15,119.37 515.65,120.05 516.15,120.67 516.65,121.24 517.15,121.81 517.65,122.37 518.15,122.93 518.65,123.50 519.15,124.08 519.65,124.70 520.15,125.39 520.65,126.14 521.15,126.93 521.65,127.75 522.15,128.59 522.65,129.43 523.15,130.29 523.65,131.19 524.15,132.14 524.65,133.13 525.15,134.15 525.65,135.18 526.15,136.22 526.65,137.26 527.15,138.34 527.65,139.44 528.15,140.59 528.65,141.77 529.15,142.95 529.65,144.12 530.15,145.25 530.65,146.31 531.15,147.30 531.65,148.23 532.15,149.14 532.65,150.02 533.15,150.87 533.65,151.66 534.15,152.39 534.65,153.05 535.15,153.67 535.65,154.28 536.15,154.88 536.65,155.48 537.15,156.08 537.65,156.66 538.15,157.22 538.65,157.73 539.15,158.17 539.65,158.56 540.15,158.90 540.65,159.23 541.15,159.56 541.65,159.89 542.15,160.21 542.65,160.56 543.15,160.93 543.65,161.37 544.15,161.89 544.65,162.49 545.15,163.13 545.65,163.79 546.15,164.47 546.65,165.18 547.15,165.98 547.65,166.89 548.15,167.93 548.65,169.06 549.15,170.26 549.65,171.51 550.15,172.83 550.65,174.28 551.15,175.87 551.65,177.58 552.15,179.33 552.65,181.06 553.15,182.70 553.65,184.23 554.15,185.64 554.65,187.00 555.15,188.35 555.65,189.74 556.15,191.24 556.65,192.83 557.15,194.50 557.65,196.22 558.15,197.98 558.65,199.80 559.15,201.69 559.65,203.63 560.15,205.62 560.65,207.63 561.15,209.67 561.65,211.74 562.15,213.80 562.65,215.80 563.15,217.68 563.65,219.42 564.15,221.06 564.65,222.66 565.15,224.25 565.65,225.84 566.15,227.45 566.65,229.06 567.15,230.64 567.65,232.17 568.15,233.63 568.65,235.03 569.15,236.38 569.65,237.69 570.15,238.93 570.65,240.10 571.15,241.19 571.65,242.22 572.15,243.20 572.65,244.13 573.15,245.00 573.65,245.82 574.15,246.63 574.65,247.40 575.15,248.16 575.65,248.89 576.15,249.60 576.65,250.30 577.15,250.99 577.65,251.66 578.15,252.31 578.65,252.95 579.15,253.59 579.65,254.22 580.15,254.86 580.65,255.50 581.15,256.14 581.65,256.79 582.15,257.45 582.65,258.12 583.15,258.78 583.65,259.45 584.15,260.11 584.65,260.75 585.15,261.38 585.65,261.99 586.15,262.58 586.65,263.16 587.15,263.74 587.65,264.31 588.15,264.85 588.65,265.35 589.15,265.80 589.65,266.19 590.15,266.55 590.65,266.88 591.15,267.20 591.65,267.49 591.90,267.75" fill="none" stroke="#6446ee" stroke-width="1.55" stroke-linejoin="round" stroke-linecap="round"/>
</g>
<text x="4.7" y="292.7" font-size="9" textLength="137" lengthAdjust="spacingAndGlyphs">MACD(5,34,4) -0.024403 -0.022737</text>
<g clip-path="url(#cd)">
<rect x="-0.02" y="308.60" width="2.7" height="14.40" fill="#007600"/>
<rect x="3.65" y="308.60" width="2.7" height="12.90" fill="#007600"/>
<rect x="7.31" y="308.60" width="2.7" height="12.50" fill="#007600"/>
<rect x="10.98" y="308.60" width="2.7" height="12.50" fill="#007600"/>
<rect x="14.65" y="308.60" width="2.7" height="12.50" fill="#007600"/>
<rect x="18.31" y="308.60" width="2.7" height="12.20" fill="#007600"/>
<rect x="21.98" y="308.60" width="2.7" height="11.60" fill="#007600"/>
<rect x="25.65" y="308.60" width="2.7" height="11.00" fill="#007600"/>
<rect x="29.31" y="308.60" width="2.7" height="9.70" fill="#007600"/>
<rect x="32.98" y="308.60" width="2.7" height="3.20" fill="#007600"/>
<rect x="36.65" y="307.00" width="2.7" height="1.60" fill="#007600"/>
<rect x="40.31" y="302.40" width="2.7" height="6.20" fill="#007600"/>
<rect x="43.98" y="295.80" width="2.7" height="12.80" fill="#007600"/>
<rect x="47.65" y="290.20" width="2.7" height="18.40" fill="#007600"/>
<rect x="51.31" y="288.90" width="2.7" height="19.70" fill="#007600"/>
<rect x="54.98" y="288.30" width="2.7" height="20.30" fill="#007600"/>
<rect x="58.65" y="288.30" width="2.7" height="20.30" fill="#007600"/>
<rect x="62.31" y="288.70" width="2.7" height="19.90" fill="#007600"/>
<rect x="65.98" y="288.90" width="2.7" height="19.70" fill="#007600"/>
<rect x="69.65" y="289.30" width="2.7" height="19.30" fill="#007600"/>
<rect x="73.31" y="289.60" width="2.7" height="19.00" fill="#007600"/>
<rect x="76.98" y="290.20" width="2.7" height="18.40" fill="#007600"/>
<rect x="80.65" y="291.10" width="2.7" height="17.50" fill="#007600"/>
<rect x="84.31" y="294.00" width="2.7" height="14.60" fill="#007600"/>
<rect x="87.98" y="295.80" width="2.7" height="12.80" fill="#007600"/>
<rect x="91.65" y="298.60" width="2.7" height="10.00" fill="#007600"/>
<rect x="95.31" y="300.10" width="2.7" height="8.50" fill="#007600"/>
<rect x="98.98" y="299.60" width="2.7" height="9.00" fill="#007600"/>
<rect x="102.65" y="300.50" width="2.7" height="8.10" fill="#007600"/>
<rect x="106.31" y="305.20" width="2.7" height="3.40" fill="#007600"/>
<rect x="109.98" y="308.60" width="2.7" height="2.20" fill="#007600"/>
<rect x="113.65" y="308.60" width="2.7" height="4.10" fill="#007600"/>
<rect x="117.31" y="308.60" width="2.7" height="5.00" fill="#007600"/>
<rect x="120.98" y="308.60" width="2.7" height="8.80" fill="#007600"/>
<rect x="124.65" y="308.60" width="2.7" height="9.70" fill="#007600"/>
<rect x="128.31" y="308.60" width="2.7" height="8.40" fill="#007600"/>
<rect x="131.98" y="308.60" width="2.7" height="10.30" fill="#007600"/>
<rect x="135.65" y="308.60" width="2.7" height="13.40" fill="#007600"/>
<rect x="139.31" y="308.60" width="2.7" height="15.40" fill="#007600"/>
<rect x="142.98" y="308.60" width="2.7" height="20.00" fill="#007600"/>
<rect x="146.65" y="308.60" width="2.7" height="23.80" fill="#007600"/>
<rect x="150.31" y="308.60" width="2.7" height="27.20" fill="#007600"/>
<rect x="153.98" y="308.60" width="2.7" height="29.00" fill="#007600"/>
<rect x="157.65" y="308.60" width="2.7" height="29.00" fill="#007600"/>
<rect x="161.31" y="308.60" width="2.7" height="29.80" fill="#007600"/>
<rect x="164.98" y="308.60" width="2.7" height="30.40" fill="#007600"/>
<rect x="168.65" y="308.60" width="2.7" height="32.80" fill="#007600"/>
<rect x="172.31" y="308.60" width="2.7" height="33.70" fill="#007600"/>
<rect x="175.98" y="308.60" width="2.7" height="31.30" fill="#007600"/>
<rect x="179.65" y="308.60" width="2.7" height="28.40" fill="#007600"/>
<rect x="183.31" y="308.60" width="2.7" height="26.60" fill="#007600"/>
<rect x="186.98" y="308.60" width="2.7" height="25.30" fill="#007600"/>
<rect x="190.65" y="308.60" width="2.7" height="25.70" fill="#007600"/>
<rect x="194.31" y="308.60" width="2.7" height="26.00" fill="#007600"/>
<rect x="197.98" y="308.60" width="2.7" height="25.30" fill="#007600"/>
<rect x="201.65" y="308.60" width="2.7" height="22.80" fill="#007600"/>
<rect x="205.31" y="308.60" width="2.7" height="23.40" fill="#007600"/>
<rect x="208.98" y="308.60" width="2.7" height="24.70" fill="#007600"/>
<rect x="212.65" y="308.60" width="2.7" height="22.80" fill="#007600"/>
<rect x="216.31" y="308.60" width="2.7" height="18.50" fill="#007600"/>
<rect x="219.98" y="308.60" width="2.7" height="14.40" fill="#007600"/>
<rect x="223.65" y="308.60" width="2.7" height="12.90" fill="#007600"/>
<rect x="227.31" y="308.60" width="2.7" height="11.60" fill="#007600"/>
<rect x="230.98" y="308.60" width="2.7" height="11.00" fill="#007600"/>
<rect x="234.65" y="308.60" width="2.7" height="8.80" fill="#007600"/>
<rect x="238.31" y="308.60" width="2.7" height="6.90" fill="#007600"/>
<rect x="241.98" y="308.60" width="2.7" height="5.00" fill="#007600"/>
<rect x="245.65" y="308.60" width="2.7" height="6.30" fill="#007600"/>
<rect x="249.31" y="308.60" width="2.7" height="6.90" fill="#007600"/>
<rect x="252.98" y="308.60" width="2.7" height="6.90" fill="#007600"/>
<rect x="256.65" y="308.60" width="2.7" height="9.70" fill="#007600"/>
<rect x="260.31" y="308.60" width="2.7" height="9.70" fill="#007600"/>
<rect x="263.98" y="308.60" width="2.7" height="10.65" fill="#007600"/>
<rect x="267.65" y="308.60" width="2.7" height="9.70" fill="#007600"/>
<rect x="271.31" y="308.60" width="2.7" height="6.00" fill="#007600"/>
<rect x="274.98" y="308.60" width="2.7" height="1.40" fill="#007600"/>
<rect x="278.65" y="308.60" width="2.7" height="2.20" fill="#007600"/>
<rect x="282.31" y="308.60" width="2.7" height="2.80" fill="#007600"/>
<rect x="285.98" y="308.60" width="2.7" height="4.65" fill="#007600"/>
<rect x="289.65" y="308.60" width="2.7" height="5.00" fill="#007600"/>
<rect x="293.31" y="308.60" width="2.7" height="6.30" fill="#007600"/>
<rect x="296.98" y="308.60" width="2.7" height="10.65" fill="#007600"/>
<rect x="300.65" y="308.60" width="2.7" height="12.50" fill="#007600"/>
<rect x="304.31" y="308.60" width="2.7" height="14.80" fill="#007600"/>
<rect x="307.98" y="308.60" width="2.7" height="17.80" fill="#007600"/>
<rect x="311.65" y="308.60" width="2.7" height="23.80" fill="#007600"/>
<rect x="315.31" y="308.60" width="2.7" height="27.90" fill="#007600"/>
<rect x="318.98" y="308.60" width="2.7" height="29.00" fill="#007600"/>
<rect x="322.65" y="308.60" width="2.7" height="26.60" fill="#007600"/>
<rect x="326.31" y="308.60" width="2.7" height="22.80" fill="#007600"/>
<rect x="329.98" y="308.60" width="2.7" height="21.00" fill="#007600"/>
<rect x="333.65" y="308.60" width="2.7" height="20.00" fill="#007600"/>
<rect x="337.31" y="308.60" width="2.7" height="18.80" fill="#007600"/>
<rect x="340.98" y="308.60" width="2.7" height="16.30" fill="#007600"/>
<rect x="344.65" y="308.60" width="2.7" height="12.90" fill="#007600"/>
<rect x="348.31" y="308.60" width="2.7" height="11.60" fill="#007600"/>
<rect x="351.98" y="308.60" width="2.7" height="12.20" fill="#007600"/>
<rect x="355.65" y="308.60" width="2.7" height="13.90" fill="#007600"/>
<rect x="359.31" y="308.60" width="2.7" height="12.50" fill="#007600"/>
<rect x="362.98" y="308.60" width="2.7" height="10.30" fill="#007600"/>
<rect x="366.65" y="308.60" width="2.7" height="6.90" fill="#007600"/>
<rect x="370.31" y="308.60" width="2.7" height="5.00" fill="#007600"/>
<rect x="373.98" y="308.60" width="2.7" height="3.20" fill="#007600"/>
<rect x="377.65" y="308.60" width="2.7" height="0.90" fill="#007600"/>
<rect x="381.31" y="305.20" width="2.7" height="3.40" fill="#007600"/>
<rect x="384.98" y="307.00" width="2.7" height="1.60" fill="#007600"/>
<rect x="388.65" y="305.20" width="2.7" height="3.40" fill="#007600"/>
<rect x="392.31" y="303.30" width="2.7" height="5.30" fill="#007600"/>
<rect x="395.98" y="302.40" width="2.7" height="6.20" fill="#007600"/>
<rect x="399.65" y="300.50" width="2.7" height="8.10" fill="#007600"/>
<rect x="403.31" y="298.60" width="2.7" height="10.00" fill="#007600"/>
<rect x="406.98" y="295.25" width="2.7" height="13.35" fill="#007600"/>
<rect x="410.65" y="294.30" width="2.7" height="14.30" fill="#007600"/>
<rect x="414.31" y="295.25" width="2.7" height="13.35" fill="#007600"/>
<rect x="417.98" y="294.30" width="2.7" height="14.30" fill="#007600"/>
<rect x="421.65" y="293.40" width="2.7" height="15.20" fill="#007600"/>
<rect x="425.31" y="294.30" width="2.7" height="14.30" fill="#007600"/>
<rect x="428.98" y="296.75" width="2.7" height="11.85" fill="#007600"/>
<rect x="432.65" y="301.40" width="2.7" height="7.20" fill="#007600"/>
<rect x="436.31" y="303.30" width="2.7" height="5.30" fill="#007600"/>
<rect x="439.98" y="301.40" width="2.7" height="7.20" fill="#007600"/>
<rect x="443.65" y="298.00" width="2.7" height="10.60" fill="#007600"/>
<rect x="447.31" y="294.50" width="2.7" height="14.10" fill="#007600"/>
<rect x="450.98" y="292.00" width="2.7" height="16.60" fill="#007600"/>
<rect x="454.65" y="292.00" width="2.7" height="16.60" fill="#007600"/>
<rect x="458.31" y="288.70" width="2.7" height="19.90" fill="#007600"/>
<rect x="461.98" y="285.90" width="2.7" height="22.70" fill="#007600"/>
<rect x="465.65" y="284.90" width="2.7" height="23.70" fill="#007600"/>
<rect x="469.31" y="286.40" width="2.7" height="22.20" fill="#007600"/>
<rect x="472.98" y="289.25" width="2.7" height="19.35" fill="#007600"/>
<rect x="476.65" y="290.20" width="2.7" height="18.40" fill="#007600"/>
<rect x="480.31" y="288.70" width="2.7" height="19.90" fill="#007600"/>
<rect x="483.98" y="289.60" width="2.7" height="19.00" fill="#007600"/>
<rect x="487.65" y="291.50" width="2.7" height="17.10" fill="#007600"/>
<rect x="491.31" y="292.60" width="2.7" height="16.00" fill="#007600"/>
<rect x="494.98" y="292.60" width="2.7" height="16.00" fill="#007600"/>
<rect x="498.65" y="294.50" width="2.7" height="14.10" fill="#007600"/>
<rect x="502.31" y="298.60" width="2.7" height="10.00" fill="#007600"/>
<rect x="505.98" y="303.30" width="2.7" height="5.30" fill="#007600"/>
<rect x="509.65" y="307.00" width="2.7" height="1.60" fill="#007600"/>
<rect x="513.31" y="308.60" width="2.7" height="0.90" fill="#007600"/>
<rect x="516.98" y="308.60" width="2.7" height="4.10" fill="#007600"/>
<rect x="520.65" y="308.60" width="2.7" height="6.90" fill="#007600"/>
<rect x="524.31" y="308.60" width="2.7" height="9.70" fill="#007600"/>
<rect x="527.98" y="308.60" width="2.7" height="13.40" fill="#007600"/>
<rect x="531.65" y="308.60" width="2.7" height="15.40" fill="#007600"/>
<rect x="535.31" y="308.60" width="2.7" height="12.90" fill="#007600"/>
<rect x="538.98" y="308.60" width="2.7" height="14.20" fill="#007600"/>
<rect x="542.65" y="308.60" width="2.7" height="20.00" fill="#007600"/>
<rect x="546.31" y="308.60" width="2.7" height="24.70" fill="#007600"/>
<rect x="549.98" y="308.60" width="2.7" height="29.00" fill="#007600"/>
<rect x="553.65" y="308.60" width="2.7" height="33.20" fill="#007600"/>
<rect x="557.31" y="308.60" width="2.7" height="36.90" fill="#007600"/>
<rect x="560.98" y="308.60" width="2.7" height="42.20" fill="#007600"/>
<rect x="564.65" y="308.60" width="2.7" height="44.80" fill="#007600"/>
<rect x="568.31" y="308.60" width="2.7" height="45.90" fill="#007600"/>
<rect x="571.98" y="308.60" width="2.7" height="39.20" fill="#007600"/>
<rect x="575.65" y="308.60" width="2.7" height="40.70" fill="#007600"/>
<rect x="579.31" y="308.60" width="2.7" height="41.60" fill="#007600"/>
<rect x="582.98" y="308.60" width="2.7" height="47.30" fill="#007600"/>
<rect x="586.65" y="308.60" width="2.7" height="48.20" fill="#007600"/>
<polyline points="1.90,323.00 2.40,322.90 2.90,322.80 3.40,322.70 3.90,322.60 4.40,322.50 4.90,322.40 5.40,322.30 5.90,322.20 6.40,322.10 6.90,322.00 7.40,321.91 7.90,321.82 8.40,321.73 8.90,321.65 9.40,321.57 9.90,321.51 10.40,321.45 10.90,321.40 11.40,321.36 11.90,321.32 12.40,321.28 12.90,321.24 13.40,321.20 13.90,321.16 14.40,321.13 14.90,321.09 15.40,321.05 15.90,321.01 16.40,320.97 16.90,320.93 17.40,320.89 17.90,320.85 18.40,320.80 18.90,320.75 19.40,320.70 19.90,320.64 20.40,320.58 20.90,320.52 21.40,320.45 21.90,320.39 22.40,320.33 22.90,320.26 23.40,320.20 23.90,320.13 24.40,320.07 24.90,320.00 25.40,319.93 25.90,319.86 26.40,319.78 26.90,319.69 27.40,319.59 27.90,319.47 28.40,319.34 28.90,319.19 29.40,319.03 29.90,318.85 30.40,318.67 30.90,318.48 31.40,318.27 31.90,318.06 32.40,317.82 32.90,317.56 33.40,317.27 33.90,316.93 34.40,316.55 34.90,316.14 35.40,315.70 35.90,315.24 36.40,314.75 36.90,314.26 37.40,313.76 37.90,313.24 38.40,312.71 38.90,312.16 39.40,311.59 39.90,310.99 40.40,310.37 40.90,309.73 41.40,309.08 41.90,308.42 42.40,307.75 42.90,307.07 43.40,306.39 43.90,305.70 44.40,305.00 44.90,304.30 45.40,303.58 45.90,302.85 46.40,302.12 46.90,301.37 47.40,300.63 47.90,299.89 48.40,299.15 48.90,298.43 49.40,297.73 49.90,297.06 50.40,296.44 50.90,295.85 51.40,295.31 51.90,294.80 52.40,294.33 52.90,293.88 53.40,293.44 53.90,293.02 54.40,292.62 54.90,292.23 55.40,291.87 55.90,291.54 56.40,291.24 56.90,290.98 57.40,290.75 57.90,290.55 58.40,290.37 58.90,290.21 59.40,290.05 59.90,289.90 60.40,289.76 60.90,289.63 61.40,289.52 61.90,289.41 62.40,289.33 62.90,289.25 63.40,289.20 63.90,289.15 64.40,289.11 64.90,289.07 65.40,289.04 65.90,289.01 66.40,288.99 66.90,288.98 67.40,288.97 67.90,288.96 68.40,288.97 68.90,288.98 69.40,289.00 69.90,289.02 70.40,289.04 70.90,289.06 71.40,289.08 71.90,289.11 72.40,289.13 72.90,289.16 73.40,289.18 73.90,289.21 74.40,289.25 74.90,289.29 75.40,289.33 75.90,289.38 76.40,289.44 76.90,289.50 77.40,289.56 77.90,289.62 78.40,289.68 78.90,289.75 79.40,289.81 79.90,289.88 80.40,289.95 80.90,290.02 81.40,290.11 81.90,290.21 82.40,290.32 82.90,290.45 83.40,290.60 83.90,290.76 84.40,290.93 84.90,291.10 85.40,291.29 85.90,291.47 86.40,291.66 86.90,291.84 87.40,292.03 87.90,292.22 88.40,292.42 88.90,292.61 89.40,292.82 89.90,293.03 90.40,293.25 90.90,293.48 91.40,293.72 91.90,293.96 92.40,294.21 92.90,294.45 93.40,294.70 93.90,294.96 94.40,295.21 94.90,295.47 95.40,295.73 95.90,296.00 96.40,296.27 96.90,296.55 97.40,296.82 97.90,297.10 98.40,297.38 98.90,297.66 99.40,297.94 99.90,298.22 100.40,298.48 100.90,298.74 101.40,299.00 101.90,299.24 102.40,299.47 102.90,299.70 103.40,299.93 103.90,300.15 104.40,300.37 104.90,300.60 105.40,300.82 105.90,301.06 106.40,301.30 106.90,301.55 107.40,301.81 107.90,302.08 108.40,302.37 108.90,302.66 109.40,302.96 109.90,303.28 110.40,303.62 110.90,303.98 111.40,304.38 111.90,304.81 112.40,305.29 112.90,305.80 113.40,306.32 113.90,306.86 114.40,307.38 114.90,307.88 115.40,308.35 115.90,308.79 116.40,309.21 116.90,309.61 117.40,310.00 117.90,310.37 118.40,310.75 118.90,311.12 119.40,311.48 119.90,311.85 120.40,312.21 120.90,312.57 121.40,312.92 121.90,313.28 122.40,313.63 122.90,313.98 123.40,314.31 123.90,314.62 124.40,314.92 124.90,315.18 125.40,315.42 125.90,315.63 126.40,315.81 126.90,315.98 127.40,316.13 127.90,316.27 128.40,316.41 128.90,316.56 129.40,316.70 129.90,316.85 130.40,317.01 130.90,317.18 131.40,317.36 131.90,317.54 132.40,317.73 132.90,317.92 133.40,318.12 133.90,318.33 134.40,318.53 134.90,318.75 135.40,318.98 135.90,319.23 136.40,319.49 136.90,319.77 137.40,320.06 137.90,320.37 138.40,320.69 138.90,321.02 139.40,321.35 139.90,321.68 140.40,322.03 140.90,322.38 141.40,322.73 141.90,323.10 142.40,323.49 142.90,323.88 143.40,324.28 143.90,324.69 144.40,325.10 144.90,325.52 145.40,325.94 145.90,326.36 146.40,326.78 146.90,327.20 147.40,327.62 147.90,328.05 148.40,328.47 148.90,328.90 149.40,329.32 149.90,329.75 150.40,330.17 150.90,330.59 151.40,331.00 151.90,331.41 152.40,331.80 152.90,332.17 153.40,332.53 153.90,332.87 154.40,333.19 154.90,333.50 155.40,333.81 155.90,334.11 156.40,334.40 156.90,334.69 157.40,334.97 157.90,335.24 158.40,335.50 158.90,335.75 159.40,335.99 159.90,336.21 160.40,336.42 160.90,336.63 161.40,336.82 161.90,337.02 162.40,337.21 162.90,337.39 163.40,337.56 163.90,337.73 164.40,337.88 164.90,338.01 165.40,338.13 165.90,338.24 166.40,338.34 166.90,338.44 167.40,338.53 167.90,338.62 168.40,338.71 168.90,338.80 169.40,338.89 169.90,338.97 170.40,339.06 170.90,339.14 171.40,339.22 171.90,339.30 172.40,339.38 172.90,339.46 173.40,339.53 173.90,339.59 174.40,339.63 174.90,339.66 175.40,339.67 175.90,339.64 176.40,339.60 176.90,339.52 177.40,339.43 177.90,339.32 178.40,339.20 178.90,339.07 179.40,338.93 179.90,338.78 180.40,338.62 180.90,338.45 181.40,338.28 181.90,338.10 182.40,337.93 182.90,337.75 183.40,337.56 183.90,337.38 184.40,337.19 184.90,337.00 185.40,336.80 185.90,336.60 186.40,336.39 186.90,336.18 187.40,335.97 187.90,335.76 188.40,335.56 188.90,335.36 189.40,335.17 189.90,335.00 190.40,334.84 190.90,334.70 191.40,334.59 191.90,334.49 192.40,334.40 192.90,334.33 193.40,334.26 193.90,334.19 194.40,334.12 194.90,334.06 195.40,333.98 195.90,333.91 196.40,333.83 196.90,333.74 197.40,333.65 197.90,333.56 198.40,333.46 198.90,333.36 199.40,333.26 199.90,333.17 200.40,333.07 200.90,332.98 201.40,332.90 201.90,332.83 202.40,332.77 202.90,332.72 203.40,332.67 203.90,332.63 204.40,332.60 204.90,332.57 205.40,332.54 205.90,332.51 206.40,332.48 206.90,332.46 207.40,332.44 207.90,332.43 208.40,332.41 208.90,332.41 209.40,332.40 209.90,332.38 210.40,332.36 210.90,332.33 211.40,332.27 211.90,332.18 212.40,332.06 212.90,331.92 213.40,331.74 213.90,331.53 214.40,331.31 214.90,331.07 215.40,330.82 215.90,330.57 216.40,330.31 216.90,330.04 217.40,329.76 217.90,329.48 218.40,329.19 218.90,328.90 219.40,328.60 219.90,328.31 220.40,328.00 220.90,327.70 221.40,327.38 221.90,327.06 222.40,326.73 222.90,326.39 223.40,326.03 223.90,325.67 224.40,325.30 224.90,324.92 225.40,324.54 225.90,324.16 226.40,323.78 226.90,323.41 227.40,323.05 227.90,322.71 228.40,322.38 228.90,322.06 229.40,321.76 229.90,321.47 230.40,321.19 230.90,320.92 231.40,320.65 231.90,320.38 232.40,320.12 232.90,319.87 233.40,319.62 233.90,319.38 234.40,319.15 234.90,318.93 235.40,318.72 235.90,318.51 236.40,318.31 236.90,318.11 237.40,317.91 237.90,317.72 238.40,317.53 238.90,317.35 239.40,317.18 239.90,317.01 240.40,316.85 240.90,316.70 241.40,316.56 241.90,316.42 242.40,316.28 242.90,316.15 243.40,316.02 243.90,315.89 244.40,315.77 244.90,315.65 245.40,315.54 245.90,315.44 246.40,315.35 246.90,315.26 247.40,315.18 247.90,315.10 248.40,315.02 248.90,314.95 249.40,314.89 249.90,314.84 250.40,314.80 250.90,314.79 251.40,314.80 251.90,314.83 252.40,314.87 252.90,314.93 253.40,315.00 253.90,315.07 254.40,315.16 254.90,315.24 255.40,315.34 255.90,315.44 256.40,315.56 256.90,315.68 257.40,315.82 257.90,315.97 258.40,316.13 258.90,316.29 259.40,316.45 259.90,316.61 260.40,316.77 260.90,316.93 261.40,317.08 261.90,317.22 262.40,317.34 262.90,317.46 263.40,317.56 263.90,317.65 264.40,317.74 264.90,317.82 265.40,317.90 265.90,317.96 266.40,318.00 266.90,318.03 267.40,318.03 267.90,318.00 268.40,317.93 268.90,317.83 269.40,317.71 269.90,317.57 270.40,317.42 270.90,317.25 271.40,317.08 271.90,316.90 272.40,316.71 272.90,316.50 273.40,316.28 273.90,316.04 274.40,315.78 274.90,315.51 275.40,315.23 275.90,314.94 276.40,314.66 276.90,314.38 277.40,314.11 277.90,313.86 278.40,313.63 278.90,313.42 279.40,313.22 279.90,313.04 280.40,312.86 280.90,312.69 281.40,312.54 281.90,312.39 282.40,312.25 282.90,312.13 283.40,312.04 283.90,311.96 284.40,311.92 284.90,311.90 285.40,311.89 285.90,311.90 286.40,311.93 286.90,311.95 287.40,311.99 287.90,312.03 288.40,312.08 288.90,312.15 289.40,312.22 289.90,312.31 290.40,312.41 290.90,312.53 291.40,312.65 291.90,312.78 292.40,312.91 292.90,313.05 293.40,313.20 293.90,313.35 294.40,313.52 294.90,313.70 295.40,313.90 295.90,314.11 296.40,314.33 296.90,314.57 297.40,314.81 297.90,315.06 298.40,315.31 298.90,315.57 299.40,315.83 299.90,316.10 300.40,316.39 300.90,316.68 301.40,316.99 301.90,317.30 302.40,317.63 302.90,317.95 303.40,318.29 303.90,318.62 304.40,318.96 304.90,319.31 305.40,319.65 305.90,320.00 306.40,320.36 306.90,320.72 307.40,321.09 307.90,321.47 308.40,321.84 308.90,322.22 309.40,322.60 309.90,322.99 310.40,323.38 310.90,323.77 311.40,324.18 311.90,324.59 312.40,325.01 312.90,325.44 313.40,325.88 313.90,326.33 314.40,326.78 314.90,327.23 315.40,327.69 315.90,328.14 316.40,328.60 316.90,329.05 317.40,329.51 317.90,329.96 318.40,330.41 318.90,330.86 319.40,331.31 319.90,331.75 320.40,332.18 320.90,332.58 321.40,332.96 321.90,333.31 322.40,333.61 322.90,333.87 323.40,334.10 323.90,334.29 324.40,334.45 324.90,334.58 325.40,334.68 325.90,334.74 326.40,334.76 326.90,334.72 327.40,334.63 327.90,334.49 328.40,334.31 328.90,334.10 329.40,333.86 329.90,333.61 330.40,333.35 330.90,333.08 331.40,332.81 331.90,332.54 332.40,332.25 332.90,331.96 333.40,331.66 333.90,331.36 334.40,331.05 334.90,330.74 335.40,330.43 335.90,330.12 336.40,329.81 336.90,329.50 337.40,329.20 337.90,328.91 338.40,328.63 338.90,328.35 339.40,328.09 339.90,327.83 340.40,327.58 340.90,327.33 341.40,327.08 341.90,326.84 342.40,326.60 342.90,326.36 343.40,326.13 343.90,325.91 344.40,325.69 344.90,325.48 345.40,325.27 345.90,325.07 346.40,324.88 346.90,324.68 347.40,324.49 347.90,324.30 348.40,324.12 348.90,323.94 349.40,323.76 349.90,323.59 350.40,323.43 350.90,323.28 351.40,323.12 351.90,322.98 352.40,322.83 352.90,322.69 353.40,322.55 353.90,322.41 354.40,322.28 354.90,322.15 355.40,322.02 355.90,321.90 356.40,321.78 356.90,321.67 357.40,321.56 357.90,321.45 358.40,321.34 358.90,321.24 359.40,321.12 359.90,321.01 360.40,320.88 360.90,320.75 361.40,320.61 361.90,320.46 362.40,320.31 362.90,320.15 363.40,319.98 363.90,319.81 364.40,319.64 364.90,319.47 365.40,319.29 365.90,319.10 366.40,318.91 366.90,318.72 367.40,318.51 367.90,318.30 368.40,318.09 368.90,317.87 369.40,317.65 369.90,317.42 370.40,317.19 370.90,316.96 371.40,316.72 371.90,316.48 372.40,316.23 372.90,315.97 373.40,315.70 373.90,315.43 374.40,315.16 374.90,314.88 375.40,314.60 375.90,314.31 376.40,314.02 376.90,313.73 377.40,313.43 377.90,313.13 378.40,312.82 378.90,312.51 379.40,312.19 379.90,311.86 380.40,311.54 380.90,311.21 381.40,310.89 381.90,310.57 382.40,310.26 382.90,309.96 383.40,309.68 383.90,309.40 384.40,309.14 384.90,308.89 385.40,308.65 385.90,308.42 386.40,308.19 386.90,307.97 387.40,307.75 387.90,307.55 388.40,307.35 388.90,307.17 389.40,307.01 389.90,306.86 390.40,306.73 390.90,306.60 391.40,306.48 391.90,306.36 392.40,306.25 392.90,306.13 393.40,306.00 393.90,305.86 394.40,305.71 394.90,305.55 395.40,305.38 395.90,305.19 396.40,304.98 396.90,304.78 397.40,304.56 397.90,304.35 398.40,304.13 398.90,303.90 399.40,303.68 399.90,303.45 400.40,303.22 400.90,302.99 401.40,302.75 401.90,302.51 402.40,302.27 402.90,302.02 403.40,301.77 403.90,301.53 404.40,301.28 404.90,301.02 405.40,300.77 405.90,300.51 406.40,300.24 406.90,299.97 407.40,299.69 407.90,299.41 408.40,299.13 408.90,298.85 409.40,298.57 409.90,298.30 410.40,298.04 410.90,297.80 411.40,297.57 411.90,297.36 412.40,297.17 412.90,297.00 413.40,296.84 413.90,296.70 414.40,296.56 414.90,296.42 415.40,296.29 415.90,296.15 416.40,296.03 416.90,295.90 417.40,295.77 417.90,295.65 418.40,295.53 418.90,295.42 419.40,295.30 419.90,295.19 420.40,295.08 420.90,294.97 421.40,294.88 421.90,294.79 422.40,294.73 422.90,294.68 423.40,294.65 423.90,294.64 424.40,294.64 424.90,294.66 425.40,294.69 425.90,294.73 426.40,294.77 426.90,294.82 427.40,294.89 427.90,294.97 428.40,295.07 428.90,295.19 429.40,295.34 429.90,295.50 430.40,295.68 430.90,295.87 431.40,296.07 431.90,296.29 432.40,296.53 432.90,296.78 433.40,297.05 433.90,297.35 434.40,297.66 434.90,297.99 435.40,298.32 435.90,298.65 436.40,298.98 436.90,299.29 437.40,299.58 437.90,299.84 438.40,300.07 438.90,300.27 439.40,300.45 439.90,300.60 440.40,300.73 440.90,300.84 441.40,300.92 441.90,300.95 442.40,300.95 442.90,300.88 443.40,300.77 443.90,300.61 444.40,300.41 444.90,300.18 445.40,299.94 445.90,299.68 446.40,299.41 446.90,299.15 447.40,298.88 447.90,298.61 448.40,298.34 448.90,298.06 449.40,297.79 449.90,297.51 450.40,297.24 450.90,296.96 451.40,296.68 451.90,296.40 452.40,296.12 452.90,295.84 453.40,295.55 453.90,295.25 454.40,294.94 454.90,294.63 455.40,294.31 455.90,293.99 456.40,293.67 456.90,293.34 457.40,293.02 457.90,292.69 458.40,292.37 458.90,292.05 459.40,291.74 459.90,291.43 460.40,291.13 460.90,290.83 461.40,290.54 461.90,290.25 462.40,289.96 462.90,289.68 463.40,289.40 463.90,289.12 464.40,288.85 464.90,288.59 465.40,288.34 465.90,288.10 466.40,287.87 466.90,287.64 467.40,287.43 467.90,287.22 468.40,287.01 468.90,286.82 469.40,286.65 469.90,286.50 470.40,286.39 470.90,286.32 471.40,286.30 471.90,286.32 472.40,286.37 472.90,286.46 473.40,286.57 473.90,286.69 474.40,286.81 474.90,286.95 475.40,287.08 475.90,287.21 476.40,287.35 476.90,287.48 477.40,287.61 477.90,287.75 478.40,287.88 478.90,288.02 479.40,288.15 479.90,288.28 480.40,288.41 480.90,288.55 481.40,288.68 481.90,288.80 482.40,288.93 482.90,289.05 483.40,289.17 483.90,289.29 484.40,289.41 484.90,289.53 485.40,289.64 485.90,289.76 486.40,289.87 486.90,289.99 487.40,290.11 487.90,290.22 488.40,290.34 488.90,290.45 489.40,290.56 489.90,290.68 490.40,290.79 490.90,290.91 491.40,291.02 491.90,291.13 492.40,291.24 492.90,291.35 493.40,291.46 493.90,291.57 494.40,291.67 494.90,291.78 495.40,291.88 495.90,291.98 496.40,292.09 496.90,292.19 497.40,292.31 497.90,292.43 498.40,292.57 498.90,292.73 499.40,292.90 499.90,293.09 500.40,293.29 500.90,293.50 501.40,293.73 501.90,293.96 502.40,294.20 502.90,294.45 503.40,294.71 503.90,294.99 504.40,295.30 504.90,295.63 505.40,295.98 505.90,296.36 506.40,296.76 506.90,297.18 507.40,297.60 507.90,298.03 508.40,298.47 508.90,298.91 509.40,299.35 509.90,299.81 510.40,300.27 510.90,300.74 511.40,301.22 511.90,301.70 512.40,302.19 512.90,302.68 513.40,303.17 513.90,303.66 514.40,304.15 514.90,304.63 515.40,305.11 515.90,305.58 516.40,306.04 516.90,306.50 517.40,306.94 517.90,307.38 518.40,307.82 518.90,308.26 519.40,308.69 519.90,309.13 520.40,309.57 520.90,310.01 521.40,310.46 521.90,310.90 522.40,311.35 522.90,311.80 523.40,312.25 523.90,312.69 524.40,313.14 524.90,313.58 525.40,314.01 525.90,314.43 526.40,314.85 526.90,315.26 527.40,315.66 527.90,316.05 528.40,316.43 528.90,316.82 529.40,317.19 529.90,317.56 530.40,317.91 530.90,318.24 531.40,318.56 531.90,318.84 532.40,319.11 532.90,319.35 533.40,319.57 533.90,319.79 534.40,319.99 534.90,320.19 535.40,320.39 535.90,320.58 536.40,320.77 536.90,320.96 537.40,321.14 537.90,321.32 538.40,321.50 538.90,321.67 539.40,321.85 539.90,322.02 540.40,322.20 540.90,322.38 541.40,322.58 541.90,322.79 542.40,323.03 542.90,323.29 543.40,323.57 543.90,323.88 544.40,324.21 544.90,324.56 545.40,324.92 545.90,325.28 546.40,325.65 546.90,326.04 547.40,326.43 547.90,326.84 548.40,327.27 548.90,327.72 549.40,328.18 549.90,328.66 550.40,329.16 550.90,329.66 551.40,330.16 551.90,330.67 552.40,331.19 552.90,331.70 553.40,332.23 553.90,332.75 554.40,333.28 554.90,333.81 555.40,334.34 555.90,334.88 556.40,335.42 556.90,335.96 557.40,336.51 557.90,337.06 558.40,337.62 558.90,338.19 559.40,338.77 559.90,339.36 560.40,339.95 560.90,340.55 561.40,341.15 561.90,341.75 562.40,342.35 562.90,342.94 563.40,343.52 563.90,344.09 564.40,344.65 564.90,345.18 565.40,345.68 565.90,346.16 566.40,346.62 566.90,347.07 567.40,347.50 567.90,347.91 568.40,348.32 568.90,348.71 569.40,349.07 569.90,349.40 570.40,349.70 570.90,349.95 571.40,350.15 571.90,350.32 572.40,350.46 572.90,350.58 573.40,350.68 573.90,350.77 574.40,350.85 574.90,350.92 575.40,350.98 575.90,351.03 576.40,351.06 576.90,351.07 577.40,351.07 577.90,351.06 578.40,351.04 578.90,351.01 579.40,350.98 579.90,350.96 580.40,350.95 580.90,350.95 581.40,350.97 581.90,351.01 582.40,351.07 582.90,351.15 583.40,351.26 583.90,351.37 584.40,351.49 584.90,351.62 585.40,351.74 585.90,351.86 586.40,351.98 586.60,352.10" fill="none" stroke="#ff20ff" stroke-width="1.05" stroke-dasharray="2.8 2.7"/>
</g>
<text x="4.7" y="292.7" font-size="9" textLength="137" lengthAdjust="spacingAndGlyphs" opacity="0.4">MACD(5,34,4) -0.024403 -0.022737</text>
<text x="4.7" y="374.0" font-size="9" textLength="111.8" lengthAdjust="spacingAndGlyphs">Stoch(5,3,3) 10.0099 17.4156</text>
<g clip-path="url(#cs)">
<line x1="-3.6" y1="379.1" x2="599" y2="379.1" stroke="#ff0808" stroke-width="1.15" stroke-dasharray="2.8 2.7"/>
<line x1="-3.6" y1="424.6" x2="599" y2="424.6" stroke="#ff0808" stroke-width="1.15" stroke-dasharray="2.8 2.7"/>
<polyline points="0.90,430.20 4.70,419.90 8.40,406.80 12.20,398.30 15.90,394.60 19.70,398.30 23.40,400.20 27.20,400.20 31.00,397.40 34.70,390.80 38.50,382.40 42.20,375.25 46.00,372.00 49.70,370.75 53.50,371.50 57.20,375.80 61.00,383.30 64.70,391.75 68.50,399.25 72.20,401.50 76.00,401.50 79.70,401.50 83.50,404.00 87.20,407.10 91.00,408.25 94.70,411.50 98.50,413.90 102.25,412.40 106.00,406.80 109.75,405.00 112.80,414.00 115.60,423.00 119.40,427.30 123.10,427.00 126.90,425.50 130.60,424.00 134.40,422.70 138.10,424.60 141.90,427.40 145.60,429.70 149.40,431.50 153.10,432.70 156.90,431.20 160.60,427.40 164.40,422.70 168.10,419.50 171.90,421.80 175.60,424.60 179.40,422.70 183.10,412.40 186.90,399.25 190.60,393.60 194.40,400.20 198.10,408.70 201.90,409.60 205.60,404.90 209.40,406.80 213.10,412.40 216.90,413.30 220.60,406.00 223.60,396.00 226.60,388.00 229.40,383.30 233.10,384.25 236.90,387.60 240.60,390.25 244.40,393.60 248.10,400.20 251.90,407.10 255.60,414.30 259.40,417.60 263.10,420.80 266.90,419.90 270.60,414.30 274.40,403.00 278.10,392.70 281.90,388.00 284.70,390.80 288.40,403.00 292.20,414.30 295.90,423.70 299.70,429.30 303.40,428.30 307.20,425.50 310.90,426.50 314.70,430.20 318.40,432.10 322.20,428.30 325.90,419.90 329.70,405.50 332.50,398.00 335.60,391.50 339.40,389.00 343.10,391.75 346.90,391.40 350.60,390.25 354.40,395.50 358.10,406.80 362.80,414.30 366.60,412.40 370.30,403.00 374.10,391.75 377.80,385.75 381.60,383.30 385.30,386.10 389.10,390.80 392.80,394.60 396.60,392.70 400.30,388.00 404.10,382.40 407.80,375.80 411.60,375.25 415.30,382.40 419.10,393.60 422.80,403.00 426.60,408.70 430.30,412.40 434.10,421.80 437.80,427.40 441.00,426.00 443.75,416.20 447.50,398.30 451.25,381.40 455.00,373.40 458.75,372.00 462.50,373.00 466.25,373.60 470.00,375.80 473.75,383.30 477.50,391.75 481.25,398.30 485.00,398.90 488.75,397.40 492.50,398.30 496.25,403.00 500.00,407.70 503.75,414.30 507.50,422.70 511.25,430.20 515.00,432.70 518.75,430.20 522.50,426.70 526.25,426.50 530.00,430.50 533.75,432.50 537.50,430.20 541.25,424.60 545.00,421.80 548.75,425.00 552.50,430.50 556.25,433.40 561.25,434.00 565.00,433.40 569.70,432.10 573.40,425.90 577.20,420.80 580.90,414.30 584.70,419.90 587.50,430.20" fill="none" stroke="#ff20ff" stroke-width="1.05" stroke-dasharray="2.8 2.7"/>
<polyline points="0.90,424.60 3.75,414.30 7.50,394.60 11.25,392.70 15.00,394.60 19.70,403.00 23.40,399.60 27.20,398.90 31.00,393.60 34.70,380.50 38.50,373.40 42.20,371.50 46.00,371.10 49.20,369.25 52.50,373.00 56.30,381.40 60.00,393.60 63.80,399.25 67.20,404.00 70.90,400.20 74.70,400.75 78.40,402.00 82.20,407.10 85.90,410.50 89.10,405.80 92.90,416.10 96.60,412.75 100.40,408.25 103.60,398.30 106.90,404.90 110.40,422.00 111.90,426.50 115.00,430.80 119.30,425.30 123.10,425.50 126.50,426.50 129.70,422.70 133.50,420.30 137.20,422.70 140.40,428.90 144.10,429.30 147.50,431.20 152.20,433.40 156.00,431.20 159.70,426.50 162.90,420.90 166.30,416.50 169.70,420.90 173.40,426.50 177.20,427.00 180.90,412.40 184.70,396.50 188.40,387.10 192.20,401.20 195.40,414.30 199.10,414.30 202.30,400.20 206.10,400.20 209.80,412.40 213.60,421.80 217.30,406.80 221.10,388.00 224.80,380.50 228.30,380.10 232.20,386.50 235.90,389.00 239.70,393.60 243.40,390.30 247.20,407.70 250.90,410.50 254.10,418.40 257.50,419.00 261.60,421.80 265.40,422.20 269.10,412.40 272.50,395.50 276.25,382.75 280.00,386.10 283.75,397.40 287.10,413.30 290.90,419.90 294.60,430.20 298.75,430.80 302.50,428.30 305.90,423.70 309.60,425.20 313.40,430.20 316.90,434.90 321.25,428.30 324.60,416.10 327.80,399.25 331.00,386.10 334.50,387.10 338.20,390.80 342.20,396.50 345.40,387.60 349.10,387.60 352.90,396.50 356.60,415.20 360.40,420.30 364.10,412.40 367.90,396.50 371.60,387.10 375.40,382.75 379.10,382.40 382.50,382.00 385.90,394.60 389.60,395.90 393.40,395.50 397.20,388.00 400.90,380.10 404.70,376.75 408.40,370.20 411.60,378.60 415.40,394.60 419.10,408.70 422.90,406.40 426.60,410.50 430.40,419.90 434.10,434.90 437.90,427.80 441.30,414.00 444.60,395.50 448.20,378.60 452.20,370.75 455.90,372.00 459.70,373.40 463.40,373.90 467.20,373.90 470.90,380.50 474.10,394.60 477.50,401.20 481.25,401.20 485.00,394.60 488.75,397.75 492.50,404.00 496.25,406.40 500.00,411.50 503.40,423.70 507.20,432.10 510.90,434.90 514.70,430.20 518.40,427.40 522.20,422.20 525.80,427.80 529.50,433.40 532.80,434.50 536.50,422.70 540.30,415.80 543.50,417.70 547.20,432.10 550.80,434.00 555.50,434.00 561.25,434.00 566.00,433.00 569.70,433.00 572.90,416.20 576.25,411.50 580.00,412.40 583.40,433.00 585.60,433.40 587.90,432.10" fill="none" stroke="#0808f8" stroke-width="1.8" stroke-linejoin="round" stroke-linecap="round"/>
<path d="M0.8,435.4 L0.8,440 L5.6,440 Z" fill="#b4b4b4"/>
</g>
<g stroke="#181818" stroke-width="1" fill="none">
<line x1="0" y1="0.5" x2="600" y2="0.5"/>
<line x1="0.5" y1="0" x2="0.5" y2="440.5"/>
<line x1="599.4" y1="0" x2="599.4" y2="278.8"/>
<line x1="599.4" y1="280.1" x2="599.4" y2="360.8"/>
<line x1="599.4" y1="361.8" x2="599.4" y2="440.5"/>
<line x1="0" y1="278.35" x2="600" y2="278.35"/>
<line x1="0" y1="280.6" x2="600" y2="280.6"/>
<line x1="0" y1="360.25" x2="600" y2="360.25" stroke-width="1.05"/>
<line x1="0" y1="362.35" x2="600" y2="362.35" stroke-width="1.05"/>
<line x1="0" y1="440.1" x2="600" y2="440.1"/>
</g>
<rect x="0" y="278.9" width="600" height="1.5" fill="#9a9a9a"/>
<g stroke="#181818" stroke-width="1">
<line x1="600" y1="3.75" x2="601.6" y2="3.75"/>
<line x1="600" y1="34.03" x2="601.6" y2="34.03"/>
<line x1="600" y1="64.31" x2="601.6" y2="64.31"/>
<line x1="600" y1="94.59" x2="601.6" y2="94.59"/>
<line x1="600" y1="124.87" x2="601.6" y2="124.87"/>
<line x1="600" y1="155.15" x2="601.6" y2="155.15"/>
<line x1="600" y1="185.43" x2="601.6" y2="185.43"/>
<line x1="600" y1="215.71" x2="601.6" y2="215.71"/>
<line x1="600" y1="245.99" x2="601.6" y2="245.99"/>
<line x1="600" y1="276.27" x2="601.6" y2="276.27"/>
<line x1="600" y1="309.0" x2="601.6" y2="309.0"/>
<line x1="600" y1="379" x2="601.6" y2="379"/>
<line x1="600" y1="424.6" x2="601.6" y2="424.6"/>
<line x1="1.43" y1="440" x2="1.43" y2="443.4"/>
<line x1="60.10" y1="440" x2="60.10" y2="443.4"/>
<line x1="118.76" y1="440" x2="118.76" y2="443.4"/>
<line x1="177.43" y1="440" x2="177.43" y2="443.4"/>
<line x1="236.10" y1="440" x2="236.10" y2="443.4"/>
<line x1="294.76" y1="440" x2="294.76" y2="443.4"/>
<line x1="353.43" y1="440" x2="353.43" y2="443.4"/>
<line x1="412.10" y1="440" x2="412.10" y2="443.4"/>
<line x1="470.76" y1="440" x2="470.76" y2="443.4"/>
<line x1="529.43" y1="440" x2="529.43" y2="443.4"/>
<line x1="588.10" y1="440" x2="588.10" y2="443.4"/>
</g>
<rect x="601" y="250.4" width="36.8" height="9.3" fill="#000"/>
</g>
<text x="604.1" y="7.0" font-size="9.0" textLength="30.6" lengthAdjust="spacingAndGlyphs">0.72570</text>
<text x="604.1" y="37.28" font-size="9.0" textLength="30.6" lengthAdjust="spacingAndGlyphs">0.71460</text>
<text x="604.1" y="67.56" font-size="9.0" textLength="30.6" lengthAdjust="spacingAndGlyphs">0.70350</text>
<text x="604.1" y="97.84" font-size="9.0" textLength="30.6" lengthAdjust="spacingAndGlyphs">0.69270</text>
<text x="604.1" y="128.12" font-size="9.0" textLength="30.6" lengthAdjust="spacingAndGlyphs">0.68160</text>
<text x="604.1" y="158.4" font-size="9.0" textLength="30.6" lengthAdjust="spacingAndGlyphs">0.67050</text>
<text x="604.1" y="188.68" font-size="9.0" textLength="30.6" lengthAdjust="spacingAndGlyphs">0.65970</text>
<text x="604.1" y="218.96" font-size="9.0" textLength="30.6" lengthAdjust="spacingAndGlyphs">0.64860</text>
<text x="604.1" y="249.24" font-size="9.0" textLength="30.6" lengthAdjust="spacingAndGlyphs">0.63750</text>
<text x="604.1" y="279.52" font-size="9.0" textLength="30.6" lengthAdjust="spacingAndGlyphs">0.62670</text>
<text x="604.5" y="258.45" font-size="9.0" textLength="30.4" lengthAdjust="spacingAndGlyphs" style="fill:#fff;stroke:#fff">0.63421</text>
<text x="602.5" y="290.0" font-size="9.0" textLength="30.2" lengthAdjust="spacingAndGlyphs">0.01389</text>
<text x="602.3" y="311.9" font-size="9.0" textLength="16.9" lengthAdjust="spacingAndGlyphs">0.00</text>
<text x="602.6" y="357.25" font-size="9.0" textLength="38" lengthAdjust="spacingAndGlyphs">-0.026226</text>
<text x="601.7" y="372.15" font-size="9.0" textLength="14.6" lengthAdjust="spacingAndGlyphs">100</text>
<text x="600.9" y="382.45" font-size="9.0" textLength="10" lengthAdjust="spacingAndGlyphs">80</text>
<text x="601.5" y="427.85" font-size="9.0" textLength="9.6" lengthAdjust="spacingAndGlyphs">20</text>
<text x="602.0" y="437.45" font-size="9.0" textLength="5" lengthAdjust="spacingAndGlyphs">0</text>
<path d="M3.5,6.3 L10.5,6.3 L7,10.1 Z" fill="#000"/>
<text x="14.4" y="11.0" font-size="9.0" textLength="59" lengthAdjust="spacingAndGlyphs">NZDUSD,Daily</text>
<text x="0.13" y="451.5" font-size="9.0" textLength="40.9" lengthAdjust="spacingAndGlyphs">1 Oct 2021</text>
<text x="59.2" y="451.5" font-size="9.0" textLength="46.15" lengthAdjust="spacingAndGlyphs">25 Oct 2021</text>
<text x="117.46" y="451.5" font-size="9.0" textLength="49.15" lengthAdjust="spacingAndGlyphs">15 Nov 2021</text>
<text x="176.53" y="451.5" font-size="9.0" textLength="43.4" lengthAdjust="spacingAndGlyphs">7 Dec 2021</text>
<text x="235.2" y="451.5" font-size="9.0" textLength="47.9" lengthAdjust="spacingAndGlyphs">29 Dec 2021</text>
<text x="293.86" y="451.5" font-size="9.0" textLength="46.4" lengthAdjust="spacingAndGlyphs">20 Jan 2022</text>
<text x="352.13" y="451.5" font-size="9.0" textLength="47.9" lengthAdjust="spacingAndGlyphs">11 Feb 2022</text>
<text x="411.2" y="451.5" font-size="9.0" textLength="43.4" lengthAdjust="spacingAndGlyphs">7 Mar 2022</text>
<text x="469.86" y="451.5" font-size="9.0" textLength="47.9" lengthAdjust="spacingAndGlyphs">25 Mar 2022</text>
<text x="528.13" y="451.5" font-size="9.0" textLength="47.15" lengthAdjust="spacingAndGlyphs">18 Apr 2022</text>
<text x="586.8" y="451.5" font-size="9.0" textLength="50.6" lengthAdjust="spacingAndGlyphs">10 May 2022</text>
</svg></body></html>
